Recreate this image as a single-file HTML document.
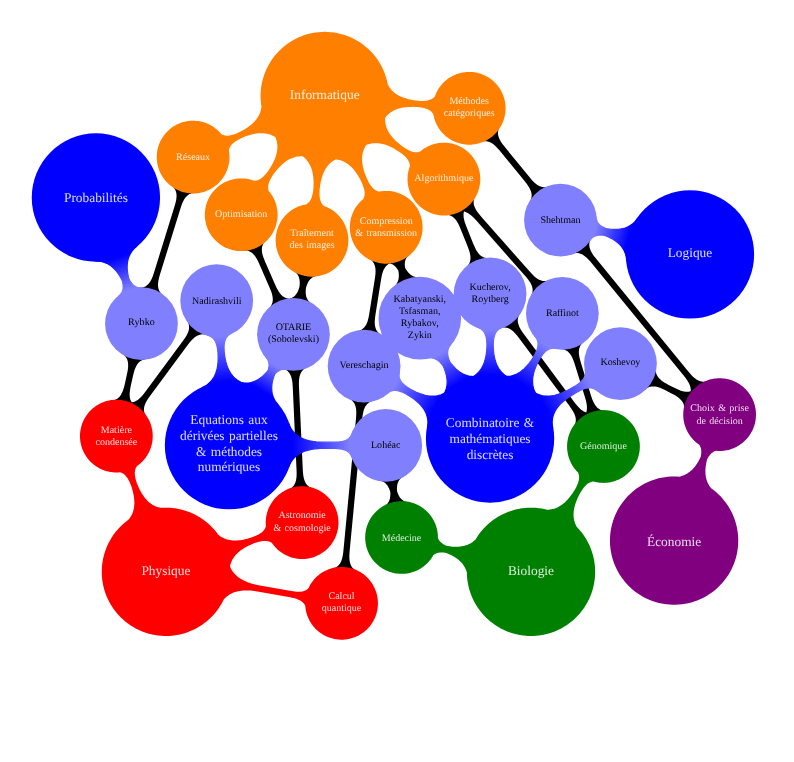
<!DOCTYPE html>
<html lang="fr"><head><meta charset="utf-8"><title>Mindmap</title>
<style>html,body{margin:0;padding:0;background:#fff;overflow:hidden}svg{display:block}text{font-family:"Liberation Serif","DejaVu Serif",serif;text-anchor:middle;text-rendering:geometricPrecision}</style></head><body>
<svg width="794" height="762" viewBox="0 0 794 762" style="will-change:transform">
<defs><linearGradient id="g0" gradientUnits="userSpaceOnUse" x1="117.46" y1="257.21" x2="129.32" y2="290.06"><stop offset="0" stop-color="#0000ff"/><stop offset="1" stop-color="#8080ff"/></linearGradient><linearGradient id="g1" gradientUnits="userSpaceOnUse" x1="628.58" y1="238.15" x2="594.97" y2="229.24"><stop offset="0" stop-color="#0000ff"/><stop offset="1" stop-color="#8080ff"/></linearGradient><linearGradient id="g2" gradientUnits="userSpaceOnUse" x1="223.62" y1="381.95" x2="219.73" y2="336.28"><stop offset="0" stop-color="#0000ff"/><stop offset="1" stop-color="#8080ff"/></linearGradient><linearGradient id="g3" gradientUnits="userSpaceOnUse" x1="260.91" y1="390.32" x2="275.50" y2="365.22"><stop offset="0" stop-color="#0000ff"/><stop offset="1" stop-color="#8080ff"/></linearGradient><linearGradient id="g4" gradientUnits="userSpaceOnUse" x1="292.48" y1="445.28" x2="350.04" y2="445.35"><stop offset="0" stop-color="#0000ff"/><stop offset="1" stop-color="#8080ff"/></linearGradient><linearGradient id="g5" gradientUnits="userSpaceOnUse" x1="434.99" y1="406.90" x2="395.07" y2="383.98"><stop offset="0" stop-color="#0000ff"/><stop offset="1" stop-color="#8080ff"/></linearGradient><linearGradient id="g6" gradientUnits="userSpaceOnUse" x1="458.05" y1="383.67" x2="440.28" y2="353.24"><stop offset="0" stop-color="#0000ff"/><stop offset="1" stop-color="#8080ff"/></linearGradient><linearGradient id="g7" gradientUnits="userSpaceOnUse" x1="490.07" y1="375.02" x2="490.09" y2="329.56"><stop offset="0" stop-color="#0000ff"/><stop offset="1" stop-color="#8080ff"/></linearGradient><linearGradient id="g8" gradientUnits="userSpaceOnUse" x1="521.80" y1="383.52" x2="544.49" y2="344.22"><stop offset="0" stop-color="#0000ff"/><stop offset="1" stop-color="#8080ff"/></linearGradient><linearGradient id="g9" gradientUnits="userSpaceOnUse" x1="545.10" y1="406.88" x2="589.49" y2="381.39"><stop offset="0" stop-color="#0000ff"/><stop offset="1" stop-color="#8080ff"/></linearGradient></defs>
<path d="M174.03,187.99 174.50,188.65 174.93,189.33 175.30,190.02 175.61,190.73 175.88,191.45 176.10,192.18 176.27,192.93 176.40,193.70 176.48,194.47 176.53,195.26 176.54,196.06 176.46,197.70 176.25,199.38 176.10,200.23 175.74,201.96 175.06,204.62 174.25,207.33 154.33,271.56 153.46,274.26 152.85,276.00 152.19,277.67 151.48,279.26 150.70,280.76 149.84,282.15 149.38,282.81 148.89,283.43 148.38,284.02 147.85,284.58 147.28,285.10 146.68,285.59 146.06,286.03 145.40,286.43 144.70,286.80 143.97,287.11 143.20,287.38 142.39,287.61 141.55,287.78 140.66,287.91 139.72,287.98 139.74,288.28 141.28,288.24 142.83,288.27 144.37,288.36 145.91,288.52 147.43,288.75 148.95,289.04 150.45,289.40 151.94,289.83 153.40,290.32 154.85,290.87 156.26,291.49 157.65,292.16 159.01,292.90 160.33,293.70 161.62,294.55 162.87,295.46 163.05,295.22 162.33,294.63 161.66,294.02 161.06,293.40 160.52,292.76 160.05,292.10 159.62,291.42 159.25,290.73 158.94,290.02 158.67,289.30 158.45,288.57 158.28,287.82 158.15,287.05 158.07,286.28 158.01,284.69 158.04,283.88 158.18,282.22 158.30,281.37 158.62,279.66 159.25,277.02 160.02,274.33 180.22,209.19 181.09,206.49 181.70,204.75 182.36,203.08 183.07,201.49 183.85,199.99 184.71,198.60 185.66,197.32 186.17,196.73 186.70,196.17 187.27,195.65 187.87,195.16 188.49,194.72 189.15,194.32 189.85,193.95 190.58,193.64 191.35,193.37 192.16,193.14 193.00,192.97 193.89,192.84 194.83,192.77 194.81,192.47 193.27,192.51 191.72,192.48 190.18,192.39 188.64,192.23 187.12,192.00 185.60,191.71 184.10,191.35 182.61,190.92 181.15,190.43 179.70,189.88 178.29,189.26 176.90,188.59 175.54,187.85 174.22,187.05 172.93,186.20 171.68,185.29 171.50,185.53 172.22,186.12 172.89,186.73 173.49,187.35ZM246.96,250.60 247.76,250.78 248.52,251.02 249.25,251.30 249.95,251.63 250.63,252.00 251.27,252.41 251.89,252.87 252.49,253.36 253.06,253.89 254.14,255.06 255.15,256.35 255.63,257.04 256.54,258.50 257.81,260.85 258.62,262.50 259.40,264.21 269.52,287.39 270.25,289.13 270.92,290.84 271.77,293.37 272.22,295.03 272.40,295.85 272.67,297.47 272.75,298.26 272.79,299.05 272.79,299.83 272.75,300.61 272.66,301.37 272.52,302.13 272.34,302.87 272.10,303.61 271.81,304.34 271.47,305.06 271.07,305.76 270.60,306.46 270.07,307.15 269.48,307.82 268.82,308.49 269.03,308.71 270.17,307.67 271.36,306.68 272.59,305.74 273.86,304.86 275.16,304.03 276.50,303.26 277.87,302.55 279.27,301.90 280.70,301.31 282.16,300.79 283.63,300.33 285.12,299.93 286.63,299.60 288.08,299.35 289.61,299.15 291.15,299.02 292.62,298.95 294.17,298.95 295.71,299.01 297.25,299.15 298.78,299.34 300.30,299.61 301.81,299.94 303.30,300.34 304.78,300.80 306.23,301.33 307.66,301.92 309.06,302.57 310.43,303.28 311.77,304.05 311.93,303.79 311.14,303.28 310.42,302.75 309.75,302.19 309.15,301.61 308.60,301.01 308.11,300.38 307.67,299.73 307.28,299.06 306.94,298.37 306.65,297.67 306.40,296.94 306.19,296.19 306.02,295.43 305.89,294.65 305.74,293.04 305.71,292.22 305.74,290.53 305.79,289.67 305.96,287.96 306.45,286.32 306.73,285.50 307.34,283.93 307.68,283.18 308.43,281.75 308.85,281.08 309.30,280.44 309.77,279.83 310.28,279.25 310.82,278.70 311.40,278.20 312.01,277.72 312.67,277.29 313.36,276.90 314.09,276.55 314.87,276.24 315.70,275.97 316.57,275.76 317.49,275.58 317.44,275.29 315.91,275.49 314.37,275.63 312.83,275.70 311.28,275.70 309.74,275.64 308.20,275.50 306.67,275.31 305.15,275.04 303.64,274.71 302.15,274.31 300.67,273.85 299.22,273.32 297.79,272.73 296.39,272.08 295.02,271.37 293.68,270.60 293.52,270.86 294.31,271.37 295.03,271.90 295.70,272.46 296.30,273.04 296.85,273.64 297.34,274.27 297.78,274.92 298.17,275.59 298.51,276.28 298.80,276.98 299.05,277.71 299.26,278.46 299.43,279.22 299.56,280.00 299.71,281.61 299.74,282.43 299.71,284.12 299.66,284.98 299.49,286.69 299.00,288.33 298.43,289.94 297.77,291.47 297.02,292.90 296.60,293.57 296.15,294.21 295.68,294.82 295.17,295.40 294.63,295.95 294.05,296.45 293.44,296.93 292.78,297.36 292.09,297.75 291.36,298.10 290.58,298.41 289.57,298.72 288.51,298.64 287.69,298.50 286.89,298.32 286.13,298.08 285.40,297.80 284.70,297.47 284.02,297.10 283.38,296.69 282.76,296.23 282.16,295.74 281.59,295.21 280.51,294.04 279.50,292.75 278.56,291.34 277.68,289.84 276.43,287.43 274.87,284.01 265.13,261.71 264.06,259.11 263.43,257.41 262.88,255.73 262.64,254.89 262.25,253.25 262.10,252.44 261.90,250.84 261.86,250.05 261.86,249.27 261.90,248.49 261.99,247.73 262.13,246.97 262.31,246.23 262.55,245.49 262.84,244.76 263.18,244.04 263.58,243.34 264.05,242.64 264.58,241.95 265.17,241.28 265.83,240.61 265.62,240.39 264.48,241.43 263.29,242.42 262.06,243.36 260.79,244.24 259.49,245.07 258.15,245.84 256.78,246.55 255.38,247.20 253.95,247.79 252.49,248.31 251.02,248.77 249.53,249.17 248.02,249.50 246.49,249.76 244.96,249.96 243.42,250.09 243.44,250.39 244.38,250.36 245.28,250.38 246.14,250.46ZM371.72,260.60 372.29,261.18 372.80,261.79 373.27,262.42 373.68,263.07 374.05,263.75 374.37,264.45 374.64,265.16 374.88,265.90 375.08,266.66 375.23,267.43 375.45,269.03 375.54,270.69 375.54,271.54 375.48,273.29 375.23,275.99 374.84,278.77 369.43,312.81 368.78,316.51 368.39,318.29 367.95,320.00 367.43,321.64 367.14,322.43 366.49,323.93 366.13,324.65 365.74,325.33 365.32,325.99 364.87,326.62 364.38,327.21 363.86,327.78 363.30,328.31 362.71,328.80 362.07,329.26 361.39,329.68 360.67,330.05 359.90,330.39 359.09,330.69 358.22,330.94 357.31,331.14 357.37,331.44 358.89,331.18 360.42,330.98 361.96,330.86 363.51,330.80 365.05,330.80 366.59,330.88 368.13,331.02 369.66,331.23 371.18,331.51 372.69,331.85 374.18,332.26 375.65,332.73 377.10,333.26 378.53,333.86 379.92,334.52 381.29,335.24 381.43,334.98 380.63,334.50 379.89,334.00 379.20,333.46 378.58,332.90 378.01,332.32 377.50,331.71 377.03,331.08 376.62,330.43 376.25,329.75 375.93,329.05 375.66,328.34 375.42,327.60 375.22,326.84 374.94,325.28 374.85,324.47 374.76,322.81 374.76,321.96 374.82,320.21 375.07,317.51 375.46,314.73 380.87,280.69 381.35,277.90 381.71,276.09 382.12,274.34 382.60,272.67 382.87,271.86 383.47,270.31 383.81,269.57 384.56,268.17 384.98,267.51 385.43,266.88 385.92,266.29 386.44,265.72 387.00,265.19 387.59,264.70 388.23,264.24 388.91,263.82 389.76,263.39 389.89,263.42 390.67,263.65 391.42,263.93 392.13,264.25 392.81,264.62 393.46,265.03 394.08,265.48 394.68,265.97 395.24,266.50 395.79,267.06 396.80,268.29 397.73,269.64 398.29,270.57 398.55,271.99 398.68,272.94 398.84,274.81 398.85,275.73 398.83,276.63 398.75,277.53 398.63,278.41 398.46,279.28 398.24,280.14 397.96,280.98 397.63,281.81 397.24,282.62 396.79,283.42 396.27,284.20 395.69,284.97 395.04,285.72 394.32,286.45 393.52,287.16 393.72,287.39 395.08,286.28 396.50,285.23 397.96,284.25 399.45,283.33 400.99,282.47 402.57,281.69 404.17,280.97 405.81,280.32 407.47,279.75 409.16,279.25 410.87,278.82 412.59,278.47 414.33,278.19 416.08,277.99 417.83,277.87 419.59,277.82 419.59,277.52 418.52,277.50 417.50,277.41 416.52,277.26 415.58,277.06 414.68,276.80 413.81,276.49 412.99,276.13 412.20,275.72 411.44,275.26 410.71,274.75 410.02,274.20 409.35,273.61 408.71,272.98 408.10,272.31 407.52,271.60 406.42,270.08 405.90,269.27 405.18,268.03 404.99,266.95 404.89,266.13 404.79,264.52 404.79,263.73 404.84,262.95 404.92,262.18 405.06,261.42 405.23,260.68 405.46,259.94 405.74,259.22 406.07,258.51 406.46,257.81 406.90,257.13 407.40,256.46 407.97,255.80 408.60,255.16 409.29,254.54 409.10,254.31 407.90,255.28 406.66,256.20 405.38,257.07 404.06,257.87 402.71,258.62 401.33,259.31 399.92,259.94 398.48,260.51 397.02,261.01 395.54,261.45 394.04,261.83 391.97,262.23 389.67,262.53 388.13,262.65 386.59,262.70 385.25,262.70 383.71,262.62 382.17,262.48 380.64,262.27 379.12,261.99 377.61,261.65 376.12,261.24 374.65,260.77 373.20,260.24 371.77,259.64 370.38,258.98 369.01,258.26 368.87,258.52 369.67,259.00 370.41,259.50 371.10,260.04ZM199.51,331.66 198.18,330.88 196.88,330.04 195.62,329.15 194.40,328.20 193.22,327.20 192.08,326.15 191.00,325.05 189.96,323.91 188.97,322.72 188.04,321.49 187.16,320.22 186.91,320.39 187.40,321.18 187.83,321.97 188.18,322.76 188.48,323.55 188.72,324.33 188.89,325.10 189.01,325.88 189.08,326.65 189.09,327.42 189.05,328.18 188.96,328.95 188.83,329.71 188.66,330.47 188.44,331.23 187.89,332.75 187.56,333.51 186.81,335.02 185.95,336.54 184.99,338.05 183.96,339.58 182.30,341.87 145.73,391.21 144.02,393.46 142.87,394.90 141.10,396.90 139.88,398.12 138.63,399.21 137.34,400.18 136.68,400.61 136.00,401.00 135.31,401.35 134.60,401.65 133.88,401.91 133.14,402.12 132.38,402.28 131.77,402.37 131.43,401.85 131.06,401.17 130.73,400.47 130.46,399.76 130.22,399.02 130.03,398.27 129.88,397.50 129.70,395.92 129.65,394.29 129.72,392.60 129.80,391.74 130.02,389.98 130.31,388.19 130.67,386.36 133.04,375.68 133.71,372.95 134.21,371.20 134.76,369.52 135.05,368.71 135.71,367.15 136.07,366.41 136.85,365.00 137.29,364.34 137.75,363.71 138.24,363.11 138.76,362.54 139.32,362.01 139.91,361.52 140.53,361.06 141.20,360.65 141.90,360.27 142.64,359.94 143.43,359.65 144.26,359.41 145.14,359.21 146.06,359.06 146.02,358.76 144.49,358.93 142.94,359.03 141.40,359.06 139.85,359.02 138.31,358.92 136.78,358.75 135.25,358.51 133.74,358.21 132.24,357.84 130.75,357.40 129.29,356.91 127.85,356.34 126.44,355.72 125.05,355.03 123.70,354.29 122.38,353.49 122.22,353.74 122.99,354.27 123.70,354.82 124.35,355.39 124.94,355.99 125.47,356.60 125.95,357.24 126.37,357.90 126.74,358.58 127.07,359.28 127.34,359.99 127.58,360.73 127.77,361.48 127.92,362.25 128.10,363.83 128.15,365.46 128.08,367.15 127.90,368.89 127.65,370.66 127.32,372.47 126.94,374.32 124.97,383.14 124.32,385.90 123.85,387.68 123.33,389.40 122.75,391.04 122.09,392.60 121.35,394.06 120.51,395.41 120.05,396.04 119.56,396.64 119.04,397.21 118.48,397.74 117.89,398.23 117.27,398.69 116.60,399.10 115.90,399.48 115.16,399.81 114.37,400.10 113.54,400.34 112.66,400.54 111.74,400.69 111.78,400.99 113.31,400.82 114.86,400.72 116.40,400.69 117.95,400.73 119.49,400.83 121.02,401.00 122.55,401.24 124.06,401.54 125.56,401.91 126.74,402.25 128.20,402.74 129.65,403.29 131.07,403.90 133.14,404.93 135.14,406.10 136.17,406.76 137.43,407.65 138.65,408.60 139.83,409.60 140.97,410.65 142.05,411.75 143.09,412.89 144.08,414.08 145.01,415.31 145.89,416.58 146.14,416.41 145.65,415.62 145.22,414.83 144.87,414.04 144.57,413.25 144.33,412.47 144.16,411.70 144.04,410.92 143.97,410.15 143.96,409.38 144.00,408.62 144.09,407.85 144.22,407.09 144.39,406.33 144.61,405.57 145.16,404.05 145.49,403.29 146.24,401.78 146.65,401.02 147.57,399.50 149.09,397.22 150.75,394.93 187.32,345.59 189.61,342.61 191.36,340.54 192.56,339.28 193.17,338.68 194.42,337.59 195.06,337.09 196.37,336.19 197.05,335.80 197.74,335.45 198.45,335.15 199.17,334.89 199.91,334.68 200.67,334.52 201.44,334.40 202.24,334.35 203.05,334.34 203.89,334.40 204.75,334.51 205.63,334.69 206.53,334.93 206.62,334.64 205.15,334.17 203.70,333.64 202.27,333.04 200.88,332.38ZM299.68,369.21 298.15,369.45 296.62,369.62 295.08,369.72 293.53,369.76 291.99,369.73 290.44,369.63 288.91,369.47 287.38,369.24 285.87,368.94 284.36,368.57 282.88,368.14 282.79,368.43 283.67,368.74 284.50,369.08 285.28,369.47 286.00,369.89 286.68,370.34 287.31,370.83 287.89,371.36 288.43,371.92 288.92,372.50 289.38,373.12 289.79,373.77 290.17,374.44 290.52,375.15 291.11,376.62 291.59,378.19 291.96,379.84 292.25,381.56 292.47,383.34 292.62,385.17 292.79,388.00 296.52,469.24 296.63,472.99 296.58,475.70 296.45,477.44 296.35,478.29 296.07,479.93 295.89,480.72 295.44,482.25 295.16,482.98 294.84,483.68 294.49,484.36 294.09,485.02 293.65,485.65 293.17,486.26 292.64,486.83 292.06,487.38 291.43,487.90 290.74,488.38 290.01,488.83 289.21,489.25 288.36,489.64 288.47,489.92 289.91,489.35 291.38,488.85 292.86,488.42 294.36,488.05 295.87,487.74 297.40,487.50 298.93,487.33 300.47,487.23 302.02,487.19 303.56,487.22 305.11,487.32 306.64,487.48 308.17,487.71 309.68,488.01 311.19,488.38 312.67,488.81 312.76,488.52 311.88,488.21 311.05,487.87 310.27,487.48 309.55,487.06 308.87,486.61 308.24,486.12 307.66,485.59 307.12,485.03 306.63,484.45 306.17,483.83 305.76,483.18 305.38,482.51 305.03,481.80 304.72,481.08 304.19,479.56 303.96,478.76 303.59,477.11 303.30,475.39 303.08,473.61 302.93,471.78 302.76,468.95 299.03,387.71 298.92,383.96 298.97,381.25 299.10,379.51 299.20,378.66 299.48,377.02 299.66,376.23 300.11,374.70 300.39,373.97 300.71,373.27 301.06,372.59 301.46,371.93 301.90,371.30 302.38,370.69 302.91,370.12 303.49,369.57 304.12,369.05 304.81,368.57 305.54,368.12 306.34,367.70 307.19,367.31 307.08,367.03 305.64,367.60 304.17,368.10 302.69,368.53 301.19,368.90ZM365.38,401.59 363.83,401.61 362.29,401.56 360.75,401.45 359.21,401.27 357.69,401.02 356.18,400.71 354.68,400.33 353.20,399.89 351.74,399.38 350.30,398.81 348.89,398.18 348.76,398.45 349.60,398.88 350.37,399.33 351.09,399.82 351.74,400.34 352.35,400.89 352.90,401.46 353.40,402.06 353.86,402.69 354.26,403.34 354.63,404.02 354.95,404.72 355.23,405.44 355.47,406.18 355.85,407.72 356.11,409.34 356.25,411.03 356.29,412.77 356.25,414.57 356.15,416.40 355.92,419.23 343.51,549.68 343.21,552.50 342.96,554.32 342.48,556.95 342.07,558.62 341.83,559.42 341.28,560.97 340.96,561.70 340.62,562.41 340.24,563.09 339.82,563.75 339.38,564.37 338.89,564.97 338.37,565.53 337.80,566.06 337.20,566.56 336.55,567.02 335.85,567.44 335.11,567.83 334.31,568.17 333.47,568.48 332.57,568.74 332.64,569.03 334.15,568.67 335.66,568.38 337.19,568.16 338.73,568.00 340.27,567.91 341.82,567.89 343.36,567.94 344.90,568.05 346.44,568.23 347.96,568.48 349.47,568.79 350.97,569.17 352.45,569.61 353.91,570.12 355.35,570.69 356.76,571.32 356.89,571.05 356.05,570.62 355.28,570.17 354.56,569.68 353.91,569.16 353.30,568.61 352.75,568.04 352.25,567.44 351.79,566.81 351.39,566.16 351.02,565.48 350.70,564.78 350.42,564.06 350.18,563.32 349.97,562.56 349.80,561.78 349.54,560.16 349.46,559.32 349.37,557.61 349.37,555.84 349.44,554.02 349.73,550.27 362.14,419.82 362.44,417.00 362.69,415.18 362.99,413.41 363.36,411.70 363.82,410.08 364.08,409.29 364.69,407.80 365.03,407.09 365.41,406.41 365.83,405.75 366.27,405.13 366.76,404.53 367.28,403.97 367.85,403.44 368.45,402.94 369.10,402.48 369.80,402.06 370.54,401.67 371.34,401.33 372.18,401.02 373.08,400.76 373.01,400.47 371.50,400.83 369.99,401.12 368.46,401.34 366.92,401.50ZM396.24,479.22 394.76,479.64 393.25,480.01 391.74,480.30 390.21,480.53 388.67,480.69 387.13,480.78 385.59,480.81 384.04,480.77 382.50,480.66 380.97,480.48 379.44,480.24 379.39,480.54 380.30,480.73 381.17,480.97 381.99,481.26 382.76,481.58 383.48,481.95 384.17,482.36 384.81,482.81 385.41,483.30 385.97,483.82 386.50,484.38 387.00,484.97 387.46,485.59 387.89,486.24 388.66,487.64 389.00,488.37 389.62,489.92 389.90,490.72 390.29,492.03 390.36,493.39 390.36,494.24 390.29,495.90 390.21,496.71 389.95,498.28 389.76,499.04 389.54,499.78 389.27,500.50 388.96,501.20 388.60,501.88 388.19,502.54 387.74,503.18 387.23,503.79 386.67,504.38 386.05,504.95 385.37,505.49 384.64,506.00 383.84,506.49 383.99,506.75 385.35,506.02 386.73,505.34 388.15,504.72 389.59,504.17 391.06,503.68 392.54,503.26 394.05,502.89 395.56,502.60 397.09,502.37 398.63,502.21 400.17,502.12 401.71,502.09 403.26,502.13 404.80,502.24 406.33,502.42 407.86,502.66 407.91,502.36 407.00,502.17 406.13,501.93 405.31,501.64 404.54,501.32 403.82,500.95 403.13,500.54 402.49,500.09 401.89,499.60 401.33,499.08 400.80,498.52 400.30,497.93 399.84,497.31 399.41,496.66 398.64,495.26 398.30,494.53 397.68,492.98 397.40,492.18 397.01,490.87 396.94,489.51 396.96,487.82 397.09,486.19 397.20,485.40 397.35,484.62 397.54,483.86 397.76,483.12 398.03,482.40 398.34,481.70 398.70,481.02 399.11,480.36 399.56,479.72 400.07,479.11 400.63,478.52 401.25,477.95 401.93,477.41 402.66,476.90 403.46,476.41 403.31,476.15 401.95,476.88 400.57,477.56 399.15,478.18 397.71,478.73ZM484.40,141.27 485.22,141.23 486.02,141.26 486.80,141.33 487.56,141.46 488.31,141.63 489.04,141.86 489.76,142.13 490.47,142.45 491.16,142.80 491.85,143.20 493.18,144.10 494.48,145.14 495.12,145.71 496.38,146.92 498.22,148.90 500.04,151.04 524.16,180.58 526.49,183.53 527.56,185.00 528.54,186.47 529.42,187.95 529.81,188.69 530.50,190.17 530.80,190.92 531.05,191.67 531.26,192.42 531.42,193.18 531.55,193.94 531.62,194.70 531.64,195.47 531.61,196.24 531.53,197.02 531.39,197.81 531.19,198.60 530.94,199.39 530.61,200.20 530.23,201.01 529.77,201.83 530.03,201.98 530.85,200.67 531.72,199.40 532.65,198.16 533.64,196.97 534.67,195.83 535.75,194.72 536.89,193.67 538.06,192.67 539.28,191.72 540.54,190.82 541.83,189.98 543.16,189.20 544.53,188.47 545.92,187.81 547.35,187.20 548.79,186.66 548.69,186.38 547.80,186.66 546.93,186.88 546.08,187.04 545.25,187.13 544.43,187.17 543.63,187.14 542.85,187.07 542.09,186.94 541.34,186.77 540.61,186.54 539.89,186.27 539.18,185.95 538.49,185.60 537.80,185.20 536.47,184.30 535.81,183.79 534.53,182.69 533.27,181.48 532.04,180.18 530.82,178.80 529.61,177.36 505.49,147.82 503.72,145.61 502.62,144.13 501.59,142.66 500.66,141.19 499.84,139.71 499.15,138.23 498.60,136.73 498.39,135.98 498.23,135.22 498.10,134.46 498.03,133.70 498.01,132.93 498.04,132.16 498.12,131.38 498.26,130.59 498.46,129.80 498.71,129.01 499.04,128.20 499.42,127.39 499.88,126.57 499.62,126.42 498.80,127.73 497.93,129.00 497.00,130.24 496.01,131.43 494.98,132.57 493.90,133.68 492.76,134.73 491.59,135.73 490.37,136.68 489.11,137.58 487.82,138.42 486.49,139.20 485.12,139.93 483.73,140.59 482.30,141.20 480.86,141.74 480.96,142.02 481.85,141.74 482.72,141.52 483.57,141.36ZM448.62,215.10 449.41,215.31 450.16,215.56 450.88,215.87 451.57,216.22 452.24,216.61 452.87,217.04 453.48,217.51 454.06,218.02 454.62,218.57 455.66,219.77 456.63,221.09 457.53,222.52 457.96,223.27 458.77,224.84 459.54,226.49 460.29,228.20 467.55,246.21 468.22,247.97 468.84,249.70 469.63,252.26 470.03,253.93 470.18,254.75 470.40,256.38 470.46,257.17 470.48,257.96 470.45,258.75 470.39,259.52 470.28,260.28 470.12,261.03 469.92,261.77 469.66,262.50 469.35,263.22 468.98,263.93 468.56,264.62 468.07,265.31 467.53,265.98 466.92,266.64 466.24,267.28 466.44,267.51 467.61,266.50 468.82,265.55 470.08,264.64 471.37,263.80 472.70,263.01 474.06,262.28 475.46,261.61 476.88,261.00 478.32,260.46 479.79,259.98 481.28,259.56 482.78,259.21 484.30,258.92 485.83,258.70 487.36,258.55 488.91,258.46 488.90,258.16 487.96,258.16 487.06,258.11 486.20,258.01 485.38,257.85 484.59,257.64 483.84,257.39 483.12,257.08 482.43,256.73 481.76,256.34 481.13,255.91 480.52,255.44 479.94,254.93 479.38,254.38 478.85,253.80 478.34,253.18 477.37,251.86 476.91,251.16 476.04,249.68 474.84,247.29 474.08,245.61 473.35,243.88 466.45,226.74 465.46,224.11 464.87,222.39 464.37,220.69 463.97,219.02 463.69,217.38 463.60,216.57 463.52,214.99 463.55,214.20 463.61,213.43 463.72,212.67 463.96,211.61 465.02,211.87 465.75,212.11 466.47,212.40 467.18,212.73 467.88,213.10 469.25,213.95 470.58,214.94 471.90,216.05 473.19,217.26 474.47,218.55 477.00,221.33 524.56,275.21 526.41,277.36 527.57,278.78 528.66,280.21 529.65,281.65 530.52,283.09 530.92,283.82 531.59,285.29 531.87,286.03 532.11,286.77 532.31,287.52 532.46,288.27 532.56,289.03 532.61,289.80 532.62,290.57 532.56,291.36 532.45,292.15 532.29,292.94 532.06,293.75 531.77,294.56 531.41,295.39 530.99,296.22 531.25,296.37 532.02,295.03 532.85,293.72 533.73,292.45 534.66,291.22 535.65,290.04 536.69,288.90 537.78,287.80 538.92,286.75 540.10,285.76 541.32,284.81 542.58,283.92 543.88,283.09 545.22,282.31 546.59,281.59 547.99,280.94 549.41,280.34 549.30,280.06 548.42,280.38 547.56,280.63 546.71,280.81 545.88,280.94 545.07,281.01 544.28,281.02 543.49,280.97 542.72,280.88 541.97,280.73 541.23,280.53 540.50,280.29 539.78,280.00 539.07,279.67 537.68,278.89 537.00,278.45 535.67,277.46 535.01,276.92 533.70,275.76 531.78,273.85 529.25,271.07 481.69,217.19 479.84,215.04 478.68,213.62 477.59,212.19 476.60,210.75 475.73,209.31 474.98,207.85 474.38,206.37 474.14,205.63 473.94,204.88 473.79,204.13 473.69,203.37 473.64,202.60 473.63,201.83 473.69,201.04 473.80,200.25 473.96,199.46 474.19,198.65 474.48,197.84 474.84,197.01 475.26,196.18 475.00,196.03 474.23,197.37 473.40,198.68 472.52,199.95 471.59,201.18 470.60,202.36 469.56,203.50 468.47,204.60 467.44,205.54 466.27,206.55 465.05,207.49 464.42,207.95 463.79,208.39 462.50,209.23 461.16,210.01 460.48,210.38 459.80,210.74 458.40,211.40 456.98,212.00 455.68,212.49 454.21,212.97 452.72,213.39 451.22,213.74 449.70,214.03 448.17,214.25 446.64,214.40 445.09,214.49 445.10,214.79 446.04,214.79 446.94,214.84 447.80,214.94ZM586.26,244.34 585.18,245.45 584.05,246.50 582.87,247.50 581.66,248.46 580.40,249.35 579.10,250.20 577.77,250.98 576.41,251.71 575.02,252.37 573.60,252.98 572.15,253.52 572.25,253.80 573.14,253.52 574.01,253.30 574.86,253.15 575.70,253.05 576.51,253.01 577.31,253.03 578.09,253.11 578.85,253.23 579.60,253.41 580.33,253.64 581.05,253.91 581.76,254.22 582.46,254.58 583.14,254.97 583.81,255.41 585.13,256.38 586.42,257.48 587.67,258.68 588.91,259.98 590.13,261.36 591.95,263.53 683.26,375.12 685.03,377.34 686.66,379.54 687.65,381.01 688.53,382.49 689.29,383.97 689.91,385.46 690.16,386.21 690.37,386.96 690.54,387.71 690.66,388.47 690.74,389.24 690.76,390.01 690.69,391.22 689.52,391.54 688.76,391.68 688.00,391.77 687.23,391.81 686.46,391.80 685.68,391.75 684.10,391.53 682.51,391.16 680.89,390.67 679.25,390.06 677.60,389.36 675.93,388.59 674.25,387.75 668.67,384.88 666.20,383.55 664.63,382.63 663.14,381.67 662.43,381.17 661.09,380.15 660.46,379.61 659.30,378.49 658.77,377.91 658.27,377.30 657.82,376.68 657.40,376.03 657.03,375.36 656.70,374.66 656.42,373.94 656.18,373.20 656.00,372.42 655.86,371.62 655.78,370.78 655.75,369.92 655.79,369.02 655.88,368.09 655.58,368.05 655.35,369.58 655.06,371.09 654.70,372.60 654.27,374.08 653.78,375.55 653.23,376.99 652.61,378.41 651.94,379.80 651.20,381.15 650.41,382.48 649.55,383.77 648.65,385.02 647.69,386.23 646.67,387.39 645.61,388.52 644.50,389.59 644.70,389.81 645.41,389.19 646.12,388.65 646.84,388.16 647.57,387.75 648.30,387.39 649.04,387.09 649.78,386.84 650.53,386.66 651.29,386.52 652.05,386.43 652.82,386.39 653.59,386.40 654.37,386.45 655.16,386.54 656.74,386.83 658.35,387.27 659.98,387.82 661.62,388.48 663.28,389.22 664.96,390.02 670.54,392.88 673.04,394.20 674.65,395.11 676.18,396.05 677.62,397.03 678.96,398.05 680.19,399.14 681.28,400.29 681.78,400.90 682.23,401.52 682.65,402.17 683.02,402.84 683.35,403.54 683.63,404.26 683.87,405.00 684.05,405.78 684.19,406.58 684.27,407.42 684.30,408.28 684.26,409.18 684.17,410.11 684.47,410.15 684.70,408.62 684.99,407.11 685.35,405.60 685.78,404.12 686.27,402.65 686.82,401.21 687.44,399.79 688.11,398.40 688.85,397.05 690.24,394.82 691.13,393.56 692.07,392.34 693.59,390.58 695.21,388.94 696.00,388.20 697.18,387.20 698.39,386.24 699.65,385.35 700.95,384.50 702.28,383.72 703.64,382.99 705.03,382.33 706.45,381.72 707.90,381.18 707.80,380.90 706.91,381.18 706.04,381.40 705.19,381.55 704.35,381.65 703.54,381.69 702.74,381.67 701.96,381.59 701.20,381.47 700.45,381.29 699.72,381.06 699.00,380.79 698.29,380.48 697.59,380.12 696.91,379.73 696.24,379.29 694.92,378.32 694.27,377.79 693.00,376.63 691.76,375.38 690.53,374.04 688.10,371.17 596.79,259.58 595.02,257.36 593.91,255.89 592.88,254.42 591.95,252.95 591.12,251.47 590.76,250.73 590.14,249.24 589.89,248.49 589.68,247.74 589.51,246.99 589.39,246.23 589.31,245.46 589.29,244.69 589.31,243.92 589.40,243.14 589.53,242.36 589.73,241.57 589.99,240.77 590.31,239.97 590.70,239.15 591.15,238.34 590.89,238.18 590.08,239.49 589.20,240.77 588.27,242.00 587.29,243.19ZM514.74,319.28 513.61,320.33 512.43,321.33 511.21,322.28 509.95,323.17 508.65,324.01 507.32,324.79 505.95,325.51 504.56,326.17 503.13,326.77 501.68,327.31 500.21,327.78 500.30,328.07 501.20,327.83 502.08,327.65 502.94,327.54 503.78,327.48 504.59,327.48 505.39,327.54 506.16,327.65 506.92,327.81 507.66,328.02 508.38,328.28 509.09,328.59 509.78,328.93 510.46,329.32 511.78,330.22 512.42,330.72 513.67,331.81 514.28,332.41 515.48,333.67 517.23,335.74 519.52,338.72 569.01,405.36 570.67,407.65 571.71,409.17 572.67,410.69 573.53,412.20 574.29,413.72 574.91,415.23 575.38,416.75 575.56,417.51 575.69,418.28 575.77,419.04 575.81,419.81 575.80,420.58 575.74,421.35 575.62,422.12 575.44,422.90 575.21,423.68 574.91,424.46 574.56,425.25 574.13,426.04 573.64,426.84 573.89,427.01 574.77,425.73 575.70,424.50 576.69,423.31 577.72,422.17 578.81,421.07 579.94,420.02 581.12,419.02 582.21,418.18 583.46,417.28 585.42,416.04 587.45,414.92 589.55,413.94 591.71,413.10 593.17,412.62 594.50,412.24 596.00,411.88 597.52,411.59 599.04,411.37 600.58,411.21 602.12,411.12 603.67,411.09 605.21,411.13 605.23,410.83 604.29,410.76 603.40,410.63 602.56,410.46 601.75,410.23 600.98,409.96 600.25,409.64 599.56,409.28 598.90,408.87 598.27,408.43 597.67,407.94 597.11,407.42 596.57,406.86 596.06,406.27 595.12,404.99 594.68,404.31 593.87,402.86 593.13,401.31 592.44,399.67 591.81,397.97 591.21,396.21 581.13,363.56 580.32,360.84 579.85,359.06 579.45,357.31 579.14,355.60 578.94,353.92 578.85,352.29 578.91,350.70 579.00,349.92 579.13,349.16 579.30,348.41 579.52,347.67 579.79,346.95 580.11,346.24 580.48,345.55 580.90,344.88 581.38,344.22 581.92,343.58 582.52,342.96 583.18,342.35 583.91,341.76 583.73,341.52 582.48,342.43 581.19,343.28 579.87,344.07 578.51,344.81 577.12,345.48 575.70,346.10 574.26,346.65 572.79,347.14 571.30,347.56 569.80,347.92 568.28,348.21 566.76,348.43 565.22,348.59 563.68,348.68 562.13,348.71 560.59,348.67 560.57,348.97 561.51,349.04 562.40,349.17 563.24,349.34 564.05,349.57 564.82,349.84 565.55,350.16 566.24,350.52 566.90,350.93 567.53,351.37 568.13,351.86 568.69,352.38 569.23,352.94 569.74,353.53 570.22,354.15 571.12,355.49 571.54,356.20 572.31,357.71 572.67,358.49 573.36,360.13 574.29,362.71 575.16,365.40 584.67,396.24 585.48,398.96 585.95,400.74 586.35,402.49 586.66,404.20 586.86,405.88 586.95,407.51 586.89,409.10 586.80,409.88 586.67,410.64 586.50,411.39 586.17,412.41 585.17,412.07 584.46,411.76 583.77,411.42 583.09,411.03 582.43,410.60 581.13,409.63 579.88,408.54 578.67,407.32 577.48,406.01 575.74,403.89 574.03,401.63 524.54,334.99 522.88,332.70 521.84,331.18 520.88,329.66 520.02,328.15 519.26,326.63 518.94,325.87 518.39,324.36 518.17,323.60 517.99,322.84 517.86,322.07 517.78,321.31 517.74,320.54 517.75,319.77 517.81,319.00 517.93,318.23 518.11,317.45 518.34,316.67 518.64,315.89 518.99,315.10 519.42,314.31 519.91,313.51 519.66,313.34 518.78,314.62 517.85,315.85 516.86,317.04 515.83,318.18Z" fill="#000" fill-rule="evenodd"/>
<path d="M387.76,84.24 387.29,81.94 386.53,78.89 385.61,75.88 384.55,72.91 383.35,70.00 382.69,68.57 381.28,65.76 379.73,63.02 378.04,60.36 376.23,57.78 375.27,56.53 373.28,54.10 371.16,51.76 368.94,49.54 366.60,47.42 364.17,45.43 361.64,43.55 359.02,41.80 356.32,40.18 354.94,39.42 353.54,38.70 350.70,37.35 347.79,36.15 344.82,35.09 341.81,34.17 338.76,33.41 337.22,33.08 334.11,32.54 330.99,32.16 327.85,31.92 324.70,31.85 321.55,31.92 318.41,32.16 315.29,32.54 312.18,33.08 309.11,33.77 306.08,34.61 303.09,35.60 301.61,36.15 298.70,37.35 295.86,38.70 294.46,39.42 291.72,40.97 289.06,42.66 286.48,44.47 284.00,46.41 282.80,47.42 281.62,48.47 279.34,50.64 277.17,52.92 275.11,55.30 273.17,57.78 272.25,59.06 270.50,61.68 268.88,64.38 267.40,67.16 266.05,70.00 264.85,72.91 264.30,74.39 263.79,75.88 262.87,78.89 262.11,81.94 261.49,85.03 261.03,88.15 260.86,89.71 260.62,92.85 260.55,96.00 260.62,99.15 260.72,100.72 261.03,103.85 261.43,106.56 261.28,107.82 261.01,109.30 260.66,110.74 260.23,112.13 259.72,113.49 259.13,114.80 258.47,116.07 257.73,117.30 256.93,118.49 256.07,119.65 255.14,120.77 254.15,121.86 253.10,122.91 252.00,123.93 250.85,124.91 249.64,125.87 248.39,126.80 247.10,127.70 245.76,128.57 244.38,129.41 242.97,130.23 241.53,131.02 238.56,132.53 236.93,133.24 235.24,133.91 233.57,134.50 231.93,134.98 230.30,135.35 229.50,135.48 227.92,135.64 227.14,135.66 226.36,135.63 225.60,135.56 224.84,135.45 224.09,135.28 223.35,135.06 222.61,134.79 221.89,134.46 221.33,134.16 220.65,133.34 219.45,132.02 218.18,130.75 216.86,129.55 215.48,128.42 214.77,127.88 214.05,127.36 212.56,126.37 211.03,125.45 209.46,124.61 208.65,124.21 207.02,123.49 205.36,122.85 203.66,122.29 202.80,122.04 201.07,121.61 200.20,121.42 198.44,121.12 196.67,120.90 194.89,120.77 193.10,120.72 192.21,120.73 190.42,120.82 188.65,120.99 187.76,121.12 186.00,121.42 184.26,121.81 182.54,122.29 180.84,122.85 180.01,123.16 178.36,123.84 176.74,124.61 175.17,125.45 173.64,126.37 172.15,127.36 170.72,128.42 169.34,129.55 168.67,130.15 167.38,131.38 166.15,132.67 165.55,133.34 164.42,134.72 163.36,136.15 162.37,137.64 161.45,139.17 160.61,140.74 159.84,142.36 159.16,144.01 158.85,144.84 158.29,146.54 157.81,148.26 157.42,150.00 157.12,151.76 156.90,153.53 156.77,155.31 156.72,157.10 156.77,158.89 156.82,159.78 156.99,161.55 157.26,163.32 157.61,165.07 158.04,166.80 158.56,168.51 159.16,170.19 159.84,171.84 160.61,173.46 161.45,175.03 162.37,176.56 163.36,178.05 164.42,179.48 165.55,180.86 166.15,181.53 167.38,182.82 168.67,184.05 170.02,185.22 171.43,186.32 172.89,187.35 174.40,188.30 175.95,189.18 176.74,189.59 178.36,190.36 180.01,191.04 181.69,191.64 183.40,192.16 185.13,192.59 186.00,192.78 187.76,193.08 189.53,193.30 191.31,193.43 193.10,193.48 194.89,193.43 195.78,193.38 197.55,193.21 199.32,192.94 201.07,192.59 202.80,192.16 204.51,191.64 206.19,191.04 207.84,190.36 208.65,189.99 210.25,189.18 211.80,188.30 213.31,187.35 214.77,186.32 215.48,185.78 216.86,184.65 218.18,183.45 219.45,182.18 220.65,180.86 221.78,179.48 222.84,178.05 223.83,176.56 224.30,175.80 225.18,174.25 225.99,172.65 226.71,171.02 227.35,169.36 227.91,167.66 228.39,165.94 228.78,164.20 229.08,162.44 229.30,160.67 229.38,159.78 229.47,157.99 229.47,156.21 229.38,154.42 229.21,152.65 228.84,150.34 228.97,149.72 229.19,148.96 229.46,148.22 229.77,147.51 230.12,146.83 230.52,146.17 230.96,145.54 231.44,144.94 231.96,144.35 232.52,143.79 233.10,143.24 234.37,142.21 235.05,141.71 236.49,140.77 238.01,139.88 239.62,139.02 241.21,138.23 242.73,137.57 245.81,136.34 247.35,135.79 248.88,135.29 250.41,134.83 251.93,134.42 253.44,134.06 254.95,133.76 256.45,133.51 257.94,133.33 259.42,133.21 260.89,133.15 262.34,133.17 263.79,133.25 265.21,133.41 266.63,133.65 268.03,133.96 269.41,134.36 270.77,134.84 272.11,135.41 273.44,136.07 274.74,136.82 275.37,137.24 275.67,137.93 276.18,139.35 276.60,140.77 276.92,142.19 277.15,143.62 277.30,145.05 277.36,146.48 277.34,147.91 277.24,149.35 277.07,150.78 276.83,152.22 276.51,153.65 276.13,155.09 275.68,156.52 275.18,157.95 274.61,159.38 273.99,160.81 273.32,162.23 272.60,163.66 271.83,165.08 271.01,166.49 269.26,169.30 268.32,170.72 266.68,172.90 265.54,174.29 264.37,175.58 263.17,176.77 261.93,177.84 260.64,178.76 259.97,179.17 259.29,179.53 258.59,179.86 257.87,180.13 257.14,180.36 256.38,180.54 255.61,180.67 254.82,180.75 254.19,180.77 252.61,180.21 251.76,179.94 250.90,179.69 249.17,179.26 248.30,179.07 246.54,178.77 244.77,178.55 243.88,178.47 242.09,178.38 240.31,178.38 239.41,178.42 237.63,178.55 235.86,178.77 234.98,178.91 233.23,179.26 231.50,179.69 230.64,179.94 228.94,180.50 228.11,180.81 227.28,181.14 225.65,181.86 224.84,182.26 223.27,183.10 222.50,183.55 220.99,184.50 219.53,185.53 218.82,186.07 217.44,187.20 216.12,188.40 215.48,189.03 214.85,189.67 213.65,190.99 213.08,191.67 211.98,193.08 211.46,193.80 210.47,195.29 209.55,196.82 209.12,197.60 208.71,198.39 207.94,200.01 207.26,201.66 206.95,202.49 206.39,204.19 206.14,205.05 205.71,206.78 205.52,207.65 205.22,209.41 205.00,211.18 204.92,212.07 204.83,213.86 204.83,215.64 204.87,216.54 204.92,217.43 205.09,219.20 205.22,220.09 205.52,221.85 205.71,222.72 206.14,224.45 206.66,226.16 207.26,227.84 207.59,228.67 207.94,229.49 208.71,231.11 209.55,232.68 210.00,233.45 210.95,234.96 211.98,236.42 213.08,237.83 213.65,238.51 214.85,239.83 216.12,241.10 217.44,242.30 218.12,242.87 219.53,243.97 220.99,245.00 222.50,245.95 223.27,246.40 224.84,247.24 225.65,247.64 227.28,248.36 228.94,249.00 230.64,249.56 231.50,249.81 233.23,250.24 234.10,250.43 235.86,250.73 237.63,250.95 238.52,251.03 240.31,251.12 242.09,251.12 243.88,251.03 244.77,250.95 246.54,250.73 248.30,250.43 249.17,250.24 250.90,249.81 252.61,249.29 254.29,248.69 255.12,248.36 256.75,247.64 258.35,246.83 259.13,246.40 260.66,245.48 262.15,244.49 263.58,243.43 264.28,242.87 265.63,241.70 266.92,240.47 268.15,239.18 269.32,237.83 270.42,236.42 271.45,234.96 272.40,233.45 273.28,231.90 274.09,230.30 274.81,228.67 275.14,227.84 275.74,226.16 276.26,224.45 276.69,222.72 277.04,220.97 277.31,219.20 277.48,217.43 277.57,215.64 277.58,214.75 277.53,212.96 277.40,211.18 277.18,209.41 276.88,207.65 276.49,205.91 276.01,204.19 275.45,202.49 274.81,200.83 274.09,199.20 273.28,197.60 272.40,196.05 271.45,194.54 270.42,193.08 269.88,192.37 268.78,191.03 268.59,190.43 268.39,189.66 268.25,188.89 268.17,188.12 268.14,187.35 268.16,186.58 268.22,185.82 268.33,185.05 268.49,184.29 268.92,182.76 269.20,181.99 269.85,180.46 270.22,179.69 271.04,178.16 271.96,176.62 272.96,175.07 273.47,174.32 274.47,172.97 276.53,170.37 277.58,169.12 278.66,167.92 279.75,166.76 280.87,165.64 282.00,164.58 283.15,163.56 284.33,162.60 285.53,161.70 286.75,160.85 287.99,160.07 289.26,159.35 290.55,158.71 291.87,158.13 293.21,157.63 294.58,157.20 295.97,156.86 297.40,156.59 298.84,156.41 300.32,156.32 301.83,156.32 302.64,156.37 303.29,156.86 304.45,157.83 305.52,158.85 306.51,159.92 307.43,161.04 308.27,162.20 309.04,163.41 309.74,164.66 310.38,165.95 310.95,167.28 311.45,168.64 311.90,170.04 312.29,171.47 312.62,172.94 312.90,174.43 313.13,175.95 313.31,177.50 313.44,179.07 313.53,180.66 313.57,182.27 313.58,183.91 313.48,187.22 313.38,188.77 313.19,190.41 312.93,192.21 312.61,193.95 312.21,195.62 311.97,196.42 311.43,197.97 311.12,198.71 310.78,199.42 310.40,200.10 310.00,200.76 309.55,201.39 309.07,201.99 308.55,202.56 307.99,203.09 307.39,203.59 306.74,204.06 306.20,204.39 304.03,204.81 302.30,205.24 300.59,205.76 298.91,206.36 297.26,207.04 296.45,207.41 294.85,208.22 293.30,209.10 291.79,210.05 290.33,211.08 288.92,212.18 287.57,213.35 286.92,213.95 285.65,215.22 284.45,216.54 283.32,217.92 282.26,219.35 281.75,220.09 280.80,221.60 279.92,223.15 279.11,224.75 278.39,226.38 277.75,228.04 277.19,229.74 276.71,231.46 276.32,233.20 276.02,234.96 275.80,236.73 275.67,238.51 275.62,240.30 275.67,242.09 275.80,243.87 276.02,245.64 276.32,247.40 276.71,249.14 277.19,250.86 277.75,252.56 278.39,254.22 279.11,255.85 279.51,256.66 280.35,258.23 281.27,259.76 282.26,261.25 283.32,262.68 284.45,264.06 285.65,265.38 286.92,266.65 288.24,267.85 289.62,268.98 291.05,270.04 292.54,271.03 294.07,271.95 295.64,272.79 297.26,273.56 298.91,274.24 300.59,274.84 302.30,275.36 303.16,275.59 304.90,275.98 306.66,276.28 308.43,276.50 310.21,276.63 312.00,276.68 313.79,276.63 315.57,276.50 317.34,276.28 318.22,276.14 319.97,275.79 321.70,275.36 322.56,275.11 323.41,274.84 325.09,274.24 325.92,273.91 327.55,273.19 329.15,272.38 329.93,271.95 331.46,271.03 332.21,270.55 333.67,269.52 335.08,268.42 336.43,267.25 337.72,266.02 338.35,265.38 339.55,264.06 340.12,263.38 341.22,261.97 342.25,260.51 342.73,259.76 343.20,259.00 344.08,257.45 344.89,255.85 345.61,254.22 346.25,252.56 346.54,251.71 347.06,250.00 347.29,249.14 347.68,247.40 347.98,245.64 348.20,243.87 348.28,242.98 348.37,241.19 348.37,239.41 348.33,238.51 348.20,236.73 347.98,234.96 347.68,233.20 347.29,231.46 346.81,229.74 346.54,228.89 345.94,227.21 345.26,225.56 344.49,223.94 343.65,222.37 342.73,220.84 341.74,219.35 340.68,217.92 339.55,216.54 338.35,215.22 337.08,213.95 335.76,212.75 334.38,211.62 332.95,210.56 332.21,210.05 330.70,209.10 329.15,208.22 327.55,207.41 325.92,206.69 323.98,205.95 323.51,205.53 322.95,204.96 322.45,204.36 321.99,203.74 321.57,203.09 321.21,202.42 320.88,201.72 320.59,201.00 320.34,200.26 319.95,198.72 319.69,197.10 319.54,195.42 319.50,194.55 319.48,192.78 319.54,190.97 319.64,189.32 320.04,186.13 320.30,184.50 320.59,182.89 320.91,181.31 321.28,179.76 321.68,178.23 322.13,176.74 322.62,175.29 323.15,173.86 323.74,172.48 324.37,171.14 325.05,169.84 325.79,168.58 326.58,167.38 327.44,166.22 328.34,165.11 329.32,164.06 330.35,163.06 331.45,162.12 332.61,161.24 333.84,160.42 335.15,159.66 335.90,159.29 336.73,159.38 338.22,159.64 339.66,159.99 341.05,160.42 342.40,160.92 343.72,161.51 344.99,162.16 346.23,162.89 347.42,163.69 348.58,164.55 349.71,165.48 350.79,166.46 351.85,167.51 352.87,168.61 353.86,169.76 354.82,170.96 355.75,172.20 356.66,173.50 357.53,174.83 358.38,176.20 360.00,179.06 361.50,181.97 362.54,184.40 363.46,186.90 363.95,188.55 364.15,189.36 364.46,190.97 364.62,192.55 364.64,193.34 364.62,194.11 364.55,194.88 364.44,195.63 364.27,196.39 364.06,197.13 363.79,197.86 363.46,198.59 363.16,199.15 361.77,200.35 360.48,201.58 359.25,202.87 358.08,204.22 356.98,205.63 355.95,207.09 355.00,208.60 354.55,209.37 354.12,210.15 353.31,211.75 352.59,213.38 351.95,215.04 351.66,215.89 351.14,217.60 350.71,219.33 350.36,221.08 350.22,221.96 350.00,223.73 349.87,225.51 349.82,227.30 349.87,229.09 350.00,230.87 350.22,232.64 350.36,233.52 350.71,235.27 351.14,237.00 351.66,238.71 351.95,239.56 352.59,241.22 353.31,242.85 354.12,244.45 354.55,245.23 355.00,246.00 355.95,247.51 356.98,248.97 358.08,250.38 359.25,251.73 360.48,253.02 361.12,253.65 362.44,254.85 363.82,255.98 365.25,257.04 365.99,257.55 367.50,258.50 369.05,259.38 370.65,260.19 372.28,260.91 373.94,261.55 375.64,262.11 377.36,262.59 379.10,262.98 380.86,263.28 382.63,263.50 384.41,263.63 386.20,263.68 387.09,263.67 388.88,263.58 390.65,263.41 391.54,263.28 393.30,262.98 394.17,262.79 395.90,262.36 397.61,261.84 399.29,261.24 400.94,260.56 402.56,259.79 404.13,258.95 405.66,258.03 407.15,257.04 407.87,256.52 409.28,255.42 410.63,254.25 411.92,253.02 413.15,251.73 414.32,250.38 414.88,249.68 415.94,248.25 416.93,246.76 417.85,245.23 418.69,243.66 419.46,242.04 420.14,240.39 420.74,238.71 421.26,237.00 421.69,235.27 422.04,233.52 422.18,232.64 422.40,230.87 422.53,229.09 422.58,227.30 422.53,225.51 422.40,223.73 422.18,221.96 422.04,221.08 421.69,219.33 421.26,217.60 420.74,215.89 420.14,214.21 419.81,213.38 419.09,211.75 418.28,210.15 417.40,208.60 416.45,207.09 415.42,205.63 414.32,204.22 413.75,203.54 412.55,202.22 411.28,200.95 409.96,199.75 408.58,198.62 407.15,197.56 405.66,196.57 404.13,195.65 403.35,195.22 401.75,194.41 400.12,193.69 398.46,193.05 396.76,192.49 395.04,192.01 393.30,191.62 391.54,191.32 389.77,191.10 388.88,191.02 387.09,190.93 385.31,190.93 383.52,191.02 381.75,191.19 379.32,191.58 378.70,191.45 377.93,191.24 377.20,190.97 376.49,190.67 375.80,190.31 375.15,189.91 374.52,189.47 373.91,189.00 373.32,188.48 372.75,187.93 372.21,187.34 371.17,186.08 370.67,185.40 369.72,183.97 368.82,182.45 367.96,180.85 367.19,179.31 366.54,177.83 365.31,174.75 364.75,173.22 364.24,171.69 363.78,170.16 363.36,168.64 363.00,167.13 362.69,165.62 362.44,164.12 362.25,162.63 362.13,161.15 362.07,159.69 362.08,158.23 362.16,156.79 362.31,155.36 362.54,153.94 362.85,152.55 363.24,151.16 363.72,149.80 364.29,148.45 364.94,147.13 365.69,145.82 366.12,145.17 366.83,144.86 368.24,144.34 369.66,143.92 371.09,143.60 372.51,143.36 373.94,143.21 375.37,143.14 376.80,143.15 378.24,143.24 379.67,143.41 381.11,143.65 382.55,143.96 383.98,144.33 385.42,144.77 386.85,145.27 388.28,145.83 389.71,146.45 391.14,147.11 392.57,147.83 393.99,148.59 395.41,149.40 398.23,151.14 399.73,152.13 401.95,153.79 403.34,154.92 404.64,156.09 405.83,157.28 406.90,158.52 407.83,159.81 408.24,160.48 408.61,161.16 408.94,161.85 409.22,162.57 409.45,163.30 409.63,164.05 409.77,164.83 409.85,165.62 409.87,166.25 409.09,168.54 408.61,170.26 408.41,171.13 408.22,172.00 407.92,173.76 407.70,175.53 407.62,176.42 407.53,178.21 407.52,179.10 407.57,180.89 407.70,182.67 407.79,183.55 408.06,185.32 408.22,186.20 408.61,187.94 409.09,189.66 409.65,191.36 409.96,192.19 410.29,193.02 411.01,194.65 411.41,195.46 412.25,197.03 412.70,197.80 413.65,199.31 414.68,200.77 415.22,201.48 416.35,202.86 416.95,203.53 418.18,204.82 418.82,205.45 420.14,206.65 421.52,207.78 422.23,208.32 422.95,208.84 424.44,209.83 425.20,210.30 426.75,211.18 427.54,211.59 429.16,212.36 429.98,212.71 431.64,213.35 433.34,213.91 434.20,214.16 435.93,214.59 436.80,214.78 438.56,215.08 439.45,215.21 441.22,215.38 442.11,215.43 443.90,215.48 444.79,215.47 446.58,215.38 448.35,215.21 449.24,215.08 451.00,214.78 451.87,214.59 453.60,214.16 454.46,213.91 456.16,213.35 457.82,212.71 459.45,211.99 461.05,211.18 461.83,210.75 463.36,209.83 464.11,209.35 465.57,208.32 466.98,207.22 468.33,206.05 468.98,205.45 470.25,204.18 471.45,202.86 472.02,202.18 473.12,200.77 474.15,199.31 475.10,197.80 475.55,197.03 476.39,195.46 476.79,194.65 477.51,193.02 478.15,191.36 478.44,190.51 478.96,188.80 479.39,187.07 479.74,185.32 479.88,184.44 480.10,182.67 480.23,180.89 480.28,179.10 480.27,178.21 480.23,177.31 480.10,175.53 479.88,173.76 479.58,172.00 479.19,170.26 478.96,169.40 478.44,167.69 478.15,166.84 477.51,165.18 476.79,163.55 476.39,162.74 475.55,161.17 474.63,159.64 473.64,158.15 472.58,156.72 471.45,155.34 470.25,154.02 468.98,152.75 468.33,152.15 466.98,150.98 465.57,149.88 464.11,148.85 462.60,147.90 461.05,147.02 459.45,146.21 457.82,145.49 456.16,144.85 454.46,144.29 453.60,144.04 451.87,143.61 450.12,143.26 448.35,142.99 446.58,142.82 444.79,142.73 443.01,142.73 441.22,142.82 440.33,142.90 438.56,143.12 436.80,143.42 435.06,143.81 433.34,144.29 431.64,144.85 429.98,145.49 428.35,146.21 426.75,147.02 425.20,147.90 424.44,148.37 422.95,149.36 421.52,150.42 420.07,151.61 419.47,151.81 418.70,152.01 417.93,152.15 417.16,152.24 416.39,152.27 415.63,152.26 414.86,152.19 414.09,152.09 413.33,151.93 411.79,151.50 411.03,151.23 409.49,150.59 408.73,150.22 407.19,149.40 405.64,148.49 404.09,147.50 403.22,146.91 401.87,145.92 399.26,143.87 398.01,142.82 396.80,141.75 395.64,140.66 394.52,139.55 393.45,138.42 392.43,137.27 391.46,136.10 390.55,134.91 389.70,133.69 388.92,132.45 388.20,131.18 387.54,129.89 386.96,128.58 386.45,127.24 386.02,125.87 385.67,124.48 385.40,123.06 385.22,121.61 385.12,120.14 385.11,118.63 385.16,117.85 385.62,117.23 386.59,116.08 387.61,115.00 388.67,114.01 389.79,113.09 390.95,112.24 392.16,111.47 393.40,110.76 394.69,110.12 396.02,109.55 397.38,109.04 398.78,108.59 400.21,108.19 401.67,107.86 403.16,107.57 404.68,107.34 406.23,107.16 407.80,107.02 409.39,106.93 411.01,106.88 412.64,106.87 415.95,106.96 417.58,107.06 419.30,107.25 421.10,107.51 422.85,107.83 424.52,108.22 425.32,108.45 426.87,108.99 427.61,109.30 428.32,109.64 429.01,110.01 429.67,110.42 430.30,110.86 430.90,111.34 431.47,111.86 432.00,112.41 432.50,113.02 432.97,113.66 433.31,114.20 433.71,116.27 434.14,118.00 434.66,119.71 435.26,121.39 435.59,122.22 436.31,123.85 437.12,125.45 438.00,127.00 438.95,128.51 439.98,129.97 441.08,131.38 442.25,132.73 443.48,134.02 444.77,135.25 446.12,136.42 447.53,137.52 448.99,138.55 450.50,139.50 452.05,140.38 452.84,140.79 454.46,141.56 456.11,142.24 457.79,142.84 459.50,143.36 461.23,143.79 462.98,144.14 463.86,144.28 465.63,144.50 467.41,144.63 469.20,144.68 470.99,144.63 472.77,144.50 474.54,144.28 476.30,143.98 478.04,143.59 479.76,143.11 481.46,142.55 483.12,141.91 484.75,141.19 486.35,140.38 487.90,139.50 489.41,138.55 490.87,137.52 492.28,136.42 493.63,135.25 494.92,134.02 496.15,132.73 497.32,131.38 498.42,129.97 499.45,128.51 500.40,127.00 501.28,125.45 502.09,123.85 502.46,123.04 503.14,121.39 503.74,119.71 504.26,118.00 504.69,116.27 505.04,114.52 505.31,112.75 505.48,110.98 505.57,109.19 505.57,107.41 505.48,105.62 505.40,104.73 505.18,102.96 504.88,101.20 504.49,99.46 504.26,98.60 503.74,96.89 503.14,95.21 502.81,94.38 502.09,92.75 501.28,91.15 500.40,89.60 499.93,88.84 499.45,88.09 498.42,86.63 497.32,85.22 496.75,84.54 495.55,83.22 494.28,81.95 493.63,81.35 492.28,80.18 490.87,79.08 489.41,78.05 488.66,77.57 487.13,76.65 486.35,76.22 484.75,75.41 483.12,74.69 481.46,74.05 480.61,73.76 478.90,73.24 477.17,72.81 476.30,72.62 474.54,72.32 472.77,72.10 470.99,71.97 470.09,71.93 468.31,71.93 466.52,72.02 464.75,72.19 462.98,72.46 461.23,72.81 460.36,73.01 458.64,73.49 456.94,74.05 455.28,74.69 453.65,75.41 452.84,75.81 451.27,76.65 449.74,77.57 448.99,78.05 447.53,79.08 446.12,80.18 444.77,81.35 443.48,82.58 442.25,83.87 441.08,85.22 439.98,86.63 439.46,87.35 438.95,88.09 438.00,89.60 437.12,91.15 436.31,92.75 435.59,94.38 434.82,96.42 434.40,96.89 433.83,97.45 433.23,97.96 432.61,98.42 431.96,98.83 431.29,99.20 430.59,99.53 429.88,99.82 429.14,100.07 428.38,100.29 427.60,100.47 425.98,100.73 425.15,100.83 423.43,100.93 421.66,100.95 419.84,100.90 418.11,100.80 416.49,100.62 413.21,100.15 411.60,99.87 410.02,99.54 408.47,99.18 406.94,98.78 405.45,98.34 403.99,97.86 402.57,97.32 401.18,96.74 399.84,96.12 398.54,95.43 397.28,94.70 396.07,93.91 394.91,93.06 393.80,92.16 392.74,91.19 391.74,90.16 390.80,89.06 389.91,87.90 389.09,86.67 388.33,85.37Z" fill="#ff8000" fill-rule="evenodd"/>
<path d="M152.68,434.31 152.55,432.53 152.33,430.76 152.03,429.00 151.84,428.13 151.41,426.40 150.89,424.69 150.29,423.01 149.61,421.36 148.84,419.74 148.00,418.17 147.08,416.64 146.09,415.15 145.57,414.43 144.47,413.02 143.30,411.67 142.07,410.38 140.78,409.15 139.43,407.98 138.02,406.88 136.56,405.85 135.05,404.90 133.50,404.02 132.71,403.61 131.09,402.84 129.44,402.16 127.76,401.56 126.91,401.29 125.19,400.81 123.45,400.42 121.69,400.12 119.92,399.90 118.14,399.77 116.35,399.72 114.56,399.77 112.78,399.90 111.01,400.12 109.25,400.42 107.51,400.81 105.79,401.29 104.94,401.56 103.26,402.16 101.61,402.84 100.80,403.21 99.20,404.02 97.65,404.90 96.14,405.85 94.68,406.88 93.27,407.98 92.59,408.55 91.27,409.75 90.00,411.02 88.80,412.34 87.67,413.72 86.61,415.15 86.10,415.89 85.15,417.40 84.27,418.95 83.46,420.55 82.74,422.18 82.10,423.84 81.54,425.54 81.29,426.40 80.86,428.13 80.51,429.88 80.24,431.65 80.07,433.42 79.98,435.21 79.97,436.10 80.02,437.89 80.15,439.67 80.37,441.44 80.51,442.32 80.86,444.07 81.29,445.80 81.81,447.51 82.41,449.19 83.09,450.84 83.46,451.65 84.27,453.25 85.15,454.80 86.10,456.31 87.13,457.77 88.23,459.18 89.40,460.53 90.00,461.18 91.27,462.45 91.92,463.05 93.27,464.22 94.68,465.32 96.14,466.35 97.65,467.30 98.42,467.75 99.20,468.18 100.80,468.99 102.43,469.71 104.09,470.35 104.94,470.64 106.65,471.16 108.38,471.59 110.13,471.94 111.01,472.08 112.78,472.30 114.56,472.43 115.46,472.47 116.35,472.48 118.14,472.43 120.06,472.29 120.67,472.47 121.42,472.75 122.13,473.08 122.81,473.45 123.46,473.86 124.08,474.31 124.67,474.81 125.23,475.34 125.77,475.90 126.78,477.13 127.25,477.79 128.14,479.20 128.55,479.94 129.34,481.50 130.08,483.13 130.78,484.84 131.41,486.61 132.36,489.79 132.78,491.36 133.16,492.93 133.49,494.49 133.77,496.04 133.99,497.58 134.17,499.11 134.29,500.63 134.34,502.13 134.34,503.61 134.27,505.08 134.13,506.53 133.93,507.96 133.65,509.37 133.29,510.76 132.86,512.12 132.35,513.46 131.76,514.78 131.07,516.07 130.31,517.34 129.45,518.57 128.66,519.57 126.43,521.23 125.20,522.21 122.82,524.27 120.54,526.44 118.37,528.72 117.32,529.90 115.33,532.33 113.45,534.86 111.70,537.48 110.08,540.18 108.60,542.96 107.91,544.37 106.63,547.25 105.50,550.19 104.51,553.18 103.67,556.21 102.98,559.28 102.44,562.39 102.06,565.51 101.92,567.08 101.77,570.23 101.77,573.37 101.92,576.52 102.06,578.09 102.44,581.21 102.98,584.32 103.67,587.39 104.51,590.42 105.50,593.41 106.05,594.89 107.25,597.80 107.91,599.23 109.32,602.04 110.08,603.42 111.70,606.12 113.45,608.74 115.33,611.27 117.32,613.70 119.44,616.04 120.54,617.16 122.82,619.33 125.20,621.39 127.68,623.33 128.96,624.25 130.26,625.14 132.92,626.83 135.66,628.38 138.47,629.79 139.90,630.45 142.81,631.65 145.78,632.71 148.79,633.63 150.31,634.03 153.38,634.72 156.49,635.26 158.05,635.47 161.18,635.78 164.33,635.93 165.90,635.95 169.05,635.88 172.19,635.64 173.75,635.47 176.87,635.01 179.96,634.39 183.01,633.63 186.02,632.71 187.51,632.20 190.45,631.07 193.33,629.79 196.14,628.38 198.88,626.83 200.22,626.00 202.84,624.25 205.37,622.37 206.60,621.39 208.98,619.33 210.14,618.26 212.36,616.04 214.48,613.70 216.47,611.27 218.35,608.74 220.10,606.12 221.72,603.42 222.48,602.04 223.76,599.51 224.60,598.57 225.67,597.51 226.78,596.53 227.94,595.64 229.13,594.83 230.37,594.09 231.64,593.43 232.95,592.85 234.29,592.33 235.66,591.88 237.06,591.50 238.50,591.18 239.96,590.92 241.45,590.72 242.96,590.57 244.49,590.48 246.05,590.44 247.63,590.45 249.22,590.51 250.83,590.61 252.46,590.75 254.10,590.93 257.41,591.40 290.14,597.27 291.96,597.65 293.73,598.07 295.44,598.54 296.26,598.81 297.85,599.40 298.60,599.72 300.04,600.45 300.72,600.86 301.37,601.29 301.99,601.76 302.58,602.25 303.13,602.79 303.65,603.35 304.13,603.96 304.58,604.60 304.98,605.29 305.26,605.86 305.35,606.87 305.57,608.64 305.87,610.40 306.26,612.14 306.49,613.00 307.01,614.71 307.61,616.39 307.94,617.22 308.66,618.85 309.06,619.66 309.47,620.45 310.35,622.00 311.30,623.51 311.81,624.25 312.33,624.97 313.43,626.38 314.00,627.06 315.20,628.38 316.47,629.65 317.12,630.25 317.79,630.85 319.17,631.98 320.60,633.04 321.34,633.55 322.85,634.50 323.62,634.95 325.19,635.79 326.00,636.19 326.81,636.56 328.46,637.24 329.29,637.55 330.99,638.11 331.85,638.36 333.58,638.79 334.45,638.98 336.21,639.28 337.98,639.50 338.87,639.58 340.66,639.67 342.44,639.67 343.34,639.63 344.23,639.58 346.00,639.41 346.89,639.28 348.65,638.98 349.52,638.79 351.25,638.36 352.11,638.11 353.81,637.55 355.47,636.91 356.29,636.56 357.10,636.19 358.70,635.38 360.25,634.50 361.01,634.03 362.50,633.04 363.22,632.52 364.63,631.42 365.31,630.85 366.63,629.65 367.27,629.02 368.50,627.73 369.67,626.38 370.77,624.97 371.29,624.25 371.80,623.51 372.75,622.00 373.63,620.45 374.44,618.85 375.16,617.22 375.49,616.39 376.09,614.71 376.61,613.00 377.04,611.27 377.39,609.52 377.53,608.64 377.75,606.87 377.88,605.09 377.92,604.19 377.93,603.30 377.88,601.51 377.75,599.73 377.53,597.96 377.39,597.08 377.04,595.33 376.61,593.60 376.09,591.89 375.49,590.21 375.16,589.38 374.44,587.75 373.63,586.15 372.75,584.60 372.28,583.84 371.80,583.09 370.77,581.63 369.67,580.22 368.50,578.87 367.27,577.58 366.63,576.95 365.31,575.75 363.93,574.62 362.50,573.56 361.01,572.57 360.25,572.10 358.70,571.22 357.10,570.41 356.29,570.04 354.64,569.36 352.96,568.76 351.25,568.24 349.52,567.81 347.77,567.46 346.00,567.19 344.23,567.02 342.44,566.93 340.66,566.93 338.87,567.02 337.10,567.19 336.21,567.32 334.45,567.62 332.71,568.01 330.99,568.49 329.29,569.05 327.63,569.69 326.00,570.41 324.40,571.22 322.85,572.10 321.34,573.05 319.88,574.08 318.47,575.18 317.12,576.35 315.83,577.58 314.60,578.87 313.43,580.22 312.33,581.63 311.30,583.09 310.35,584.60 309.47,586.15 308.41,588.29 307.95,588.73 307.33,589.23 306.69,589.68 306.03,590.08 305.35,590.43 304.64,590.74 303.92,591.00 303.18,591.22 302.42,591.40 300.85,591.66 299.21,591.77 297.52,591.77 296.66,591.74 294.90,591.59 293.09,591.37 291.25,591.09 258.52,585.22 255.25,584.51 252.07,583.68 250.53,583.21 249.01,582.71 247.53,582.17 246.09,581.59 244.68,580.97 243.31,580.31 241.99,579.61 240.71,578.86 239.47,578.06 238.29,577.21 237.16,576.31 236.08,575.36 235.06,574.36 234.10,573.30 233.19,572.18 232.36,571.00 231.58,569.76 230.88,568.46 230.24,567.10 229.96,566.37 230.12,565.60 230.51,564.15 230.99,562.75 231.54,561.40 232.17,560.09 232.87,558.84 233.64,557.63 234.48,556.47 235.38,555.35 236.35,554.28 237.37,553.24 238.45,552.25 239.59,551.29 240.77,550.37 242.01,549.49 243.29,548.64 244.62,547.83 245.99,547.05 247.40,546.30 248.84,545.58 250.32,544.89 253.37,543.59 254.80,543.03 255.46,542.80 257.22,542.25 258.94,541.77 260.64,541.38 261.48,541.22 263.13,540.99 263.94,540.93 265.53,540.92 266.31,540.97 267.08,541.06 267.84,541.20 268.58,541.38 269.31,541.61 270.03,541.90 270.74,542.23 271.44,542.62 271.96,542.97 272.88,544.27 273.42,544.98 274.55,546.36 275.75,547.68 277.02,548.95 278.34,550.15 279.72,551.28 281.15,552.34 282.64,553.33 284.17,554.25 285.74,555.09 287.36,555.86 289.01,556.54 290.69,557.14 292.40,557.66 294.13,558.09 295.88,558.44 297.65,558.71 299.42,558.88 301.21,558.97 302.99,558.97 304.78,558.88 306.55,558.71 308.32,558.44 310.07,558.09 311.80,557.66 313.51,557.14 315.19,556.54 316.84,555.86 318.46,555.09 319.25,554.68 320.80,553.80 322.31,552.85 323.77,551.82 325.18,550.72 325.86,550.15 327.18,548.95 328.45,547.68 329.65,546.36 330.22,545.68 331.32,544.27 332.35,542.81 333.30,541.30 334.18,539.75 334.99,538.15 335.71,536.52 336.35,534.86 336.64,534.01 337.16,532.30 337.59,530.57 337.94,528.82 338.08,527.94 338.30,526.17 338.43,524.39 338.48,522.60 338.43,520.81 338.30,519.03 338.21,518.15 337.94,516.38 337.59,514.63 337.16,512.90 336.64,511.19 336.35,510.34 335.71,508.68 334.99,507.05 334.18,505.45 333.30,503.90 332.35,502.39 331.84,501.65 331.32,500.93 330.22,499.52 329.05,498.17 327.82,496.88 326.53,495.65 325.18,494.48 324.48,493.92 323.77,493.38 322.31,492.35 320.80,491.40 320.03,490.95 318.46,490.11 317.65,489.71 316.02,488.99 315.19,488.66 313.51,488.06 312.66,487.79 310.94,487.31 310.07,487.11 309.20,486.92 307.44,486.62 305.67,486.40 304.78,486.32 303.89,486.27 302.10,486.22 300.31,486.27 299.42,486.32 298.53,486.40 296.76,486.62 295.00,486.92 294.13,487.11 293.26,487.31 291.54,487.79 289.84,488.35 288.18,488.99 287.36,489.34 286.55,489.71 284.95,490.52 283.40,491.40 281.89,492.35 280.43,493.38 279.72,493.92 279.02,494.48 277.67,495.65 276.38,496.88 275.75,497.52 274.55,498.84 273.98,499.52 272.88,500.93 272.36,501.65 271.85,502.39 270.90,503.90 270.02,505.45 269.21,507.05 268.49,508.68 268.16,509.51 267.56,511.19 267.29,512.04 266.81,513.76 266.61,514.63 266.42,515.50 266.12,517.26 265.90,519.03 265.82,519.92 265.73,521.71 265.73,523.49 265.82,525.28 265.90,526.19 265.72,526.80 265.43,527.54 265.10,528.25 264.73,528.93 264.32,529.58 263.86,530.19 263.37,530.78 262.83,531.35 262.27,531.88 261.67,532.40 260.37,533.36 259.68,533.81 258.22,534.65 257.45,535.05 255.85,535.81 253.31,536.87 252.66,537.12 251.21,537.60 248.03,538.55 246.45,538.96 244.88,539.33 243.32,539.65 241.77,539.93 240.23,540.15 238.70,540.32 237.18,540.43 235.68,540.48 234.20,540.47 232.73,540.40 231.28,540.26 229.85,540.05 228.44,539.76 227.06,539.41 225.69,538.97 224.35,538.45 223.04,537.85 221.75,537.17 220.49,536.39 219.25,535.53 218.27,534.75 216.47,532.33 215.49,531.10 213.43,528.72 211.26,526.44 210.14,525.34 207.80,523.22 206.60,522.21 204.12,520.27 201.54,518.46 198.88,516.77 196.14,515.22 193.33,513.81 191.90,513.15 190.45,512.53 187.51,511.40 186.02,510.89 183.01,509.97 179.96,509.21 178.42,508.88 175.31,508.34 173.75,508.13 170.62,507.82 169.05,507.72 165.90,507.65 162.75,507.72 160.72,507.86 159.48,507.61 158.03,507.22 156.62,506.74 155.27,506.20 153.97,505.57 152.71,504.88 151.50,504.11 150.33,503.28 149.21,502.38 148.13,501.42 147.09,500.40 146.10,499.32 145.14,498.19 144.21,497.00 143.33,495.77 142.48,494.49 141.66,493.16 140.87,491.80 140.12,490.39 139.39,488.95 138.03,485.97 137.39,484.43 136.72,482.67 136.15,480.92 135.67,479.19 135.27,477.49 134.98,475.83 134.81,474.20 134.78,473.40 134.79,472.61 134.84,471.83 134.93,471.06 135.06,470.30 135.25,469.55 135.48,468.82 135.76,468.10 136.09,467.39 136.48,466.70 136.83,466.16 138.73,464.78 140.11,463.65 140.78,463.05 142.07,461.82 142.70,461.18 143.90,459.86 145.03,458.48 145.57,457.77 146.09,457.05 147.08,455.56 147.55,454.80 148.43,453.25 149.24,451.65 149.96,450.02 150.60,448.36 150.89,447.51 151.41,445.80 151.84,444.07 152.03,443.20 152.33,441.44 152.46,440.55 152.63,438.78 152.68,437.89 152.73,436.10Z" fill="#ff0000" fill-rule="evenodd"/>
<path d="M639.82,445.61 639.73,443.82 639.56,442.05 639.29,440.28 638.94,438.53 638.51,436.80 638.26,435.94 637.70,434.24 637.06,432.58 636.71,431.76 635.94,430.14 635.10,428.57 634.18,427.04 633.19,425.55 632.67,424.83 631.57,423.42 631.00,422.74 629.80,421.42 628.53,420.15 627.21,418.95 626.53,418.38 625.12,417.28 623.66,416.25 622.15,415.30 620.60,414.42 619.81,414.01 619.00,413.61 617.37,412.89 615.71,412.25 614.01,411.69 612.29,411.21 611.42,411.01 610.55,410.82 608.79,410.52 607.02,410.30 605.24,410.17 603.45,410.12 602.56,410.13 601.66,410.17 599.88,410.30 598.11,410.52 596.35,410.82 594.61,411.21 592.89,411.69 592.04,411.96 590.36,412.56 588.71,413.24 587.09,414.01 586.30,414.42 584.75,415.30 583.24,416.25 581.78,417.28 580.37,418.38 579.69,418.95 578.37,420.15 577.10,421.42 575.90,422.74 574.77,424.12 573.71,425.55 572.72,427.04 572.25,427.80 571.37,429.35 570.56,430.95 569.84,432.58 569.51,433.41 568.91,435.09 568.39,436.80 567.96,438.53 567.77,439.40 567.47,441.16 567.34,442.05 567.17,443.82 567.12,444.71 567.08,445.61 567.08,447.39 567.17,449.18 567.25,450.07 567.47,451.84 567.77,453.60 567.96,454.47 568.39,456.20 568.64,457.06 569.20,458.76 569.51,459.59 569.84,460.42 570.56,462.05 571.37,463.65 571.80,464.43 572.72,465.96 573.20,466.71 573.71,467.45 574.77,468.88 575.33,469.58 576.50,470.93 578.07,472.56 578.32,473.14 578.59,473.90 578.79,474.65 578.94,475.41 579.04,476.17 579.09,476.94 579.09,477.71 579.05,478.48 578.96,479.26 578.66,480.82 578.22,482.40 577.65,483.99 576.96,485.59 576.18,487.21 575.01,489.41 573.32,492.09 572.40,493.46 571.46,494.79 570.50,496.09 569.51,497.34 568.50,498.55 567.47,499.72 566.41,500.83 565.32,501.89 564.21,502.90 563.06,503.85 561.89,504.73 560.69,505.56 559.46,506.32 558.20,507.01 556.91,507.63 555.59,508.17 554.23,508.64 552.84,509.03 551.41,509.34 549.95,509.56 548.45,509.69 547.18,509.73 545.06,509.21 541.97,508.59 538.85,508.13 535.72,507.82 534.15,507.72 531.00,507.65 527.85,507.72 524.71,507.96 523.15,508.13 521.59,508.34 518.48,508.88 515.41,509.57 512.38,510.41 509.39,511.40 507.91,511.95 505.00,513.15 502.16,514.50 500.76,515.22 498.02,516.77 495.36,518.46 492.78,520.27 490.30,522.21 489.10,523.22 487.92,524.27 485.64,526.44 483.47,528.72 481.41,531.10 480.43,532.33 478.55,534.86 476.80,537.48 475.60,539.46 474.68,540.34 473.53,541.31 472.34,542.19 471.11,542.98 469.85,543.70 468.56,544.33 467.24,544.88 465.89,545.36 464.51,545.77 463.11,546.10 461.68,546.37 460.22,546.57 458.74,546.71 457.25,546.79 455.73,546.81 454.19,546.78 452.64,546.69 451.07,546.55 449.48,546.37 447.17,546.01 446.32,545.67 444.79,544.95 443.36,544.15 442.69,543.72 442.04,543.26 441.43,542.78 440.85,542.26 440.31,541.72 439.80,541.14 439.33,540.53 438.90,539.89 438.51,539.21 438.16,538.50 437.92,537.91 437.88,535.71 437.75,533.93 437.53,532.16 437.39,531.28 437.04,529.53 436.61,527.80 436.09,526.09 435.80,525.24 435.16,523.58 434.44,521.95 434.04,521.14 433.63,520.35 432.75,518.80 431.80,517.29 430.77,515.83 429.67,514.42 429.10,513.74 427.90,512.42 427.27,511.78 425.98,510.55 424.63,509.38 423.22,508.28 422.50,507.76 421.01,506.77 419.48,505.85 417.91,505.01 416.29,504.24 414.64,503.56 412.96,502.96 412.11,502.69 410.39,502.21 408.65,501.82 406.89,501.52 405.12,501.30 403.34,501.17 401.55,501.12 400.66,501.13 398.87,501.22 397.10,501.39 395.33,501.66 393.58,502.01 391.85,502.44 390.14,502.96 389.29,503.25 387.63,503.89 386.00,504.61 384.40,505.42 382.85,506.30 381.34,507.25 379.88,508.28 378.47,509.38 377.12,510.55 376.47,511.15 375.20,512.42 374.00,513.74 373.43,514.42 372.33,515.83 371.30,517.29 370.35,518.80 369.47,520.35 368.66,521.95 367.94,523.58 367.61,524.41 367.01,526.09 366.49,527.80 366.06,529.53 365.71,531.28 365.57,532.16 365.35,533.93 365.22,535.71 365.17,537.50 365.22,539.29 365.35,541.07 365.57,542.84 365.71,543.72 366.06,545.47 366.49,547.20 367.01,548.91 367.61,550.59 367.94,551.42 368.66,553.05 369.47,554.65 369.90,555.43 370.35,556.20 371.30,557.71 372.33,559.17 372.87,559.88 374.00,561.26 374.60,561.93 375.83,563.22 376.47,563.85 377.79,565.05 378.47,565.62 379.17,566.18 380.60,567.24 382.09,568.23 382.85,568.70 384.40,569.58 385.19,569.99 386.81,570.76 387.63,571.11 389.29,571.75 390.99,572.31 391.85,572.56 393.58,572.99 394.45,573.18 396.21,573.48 397.10,573.61 398.87,573.78 399.76,573.83 400.66,573.87 402.44,573.87 404.23,573.78 405.12,573.70 406.89,573.48 408.65,573.18 409.52,572.99 411.25,572.56 412.11,572.31 413.81,571.75 414.64,571.44 415.47,571.11 417.10,570.39 418.70,569.58 419.48,569.15 421.01,568.23 422.50,567.24 423.22,566.72 424.63,565.62 425.98,564.45 427.27,563.22 428.50,561.93 429.67,560.58 430.23,559.88 430.77,559.17 431.80,557.71 432.75,556.20 433.35,555.16 433.85,554.76 434.51,554.31 435.18,553.92 435.87,553.57 436.58,553.27 437.31,553.03 438.05,552.82 438.81,552.66 439.58,552.54 441.17,552.42 441.98,552.41 443.64,552.49 445.40,552.69 447.58,553.53 449.05,554.15 450.48,554.81 451.88,555.51 453.23,556.24 454.54,557.01 455.80,557.82 457.02,558.67 458.18,559.57 459.29,560.51 460.35,561.50 461.34,562.53 462.28,563.62 463.15,564.75 463.96,565.94 464.70,567.18 465.37,568.48 465.97,569.83 466.49,571.25 466.86,572.46 466.92,574.95 467.02,576.52 467.33,579.65 467.54,581.21 468.08,584.32 468.77,587.39 469.17,588.91 470.09,591.92 471.15,594.89 472.35,597.80 473.70,600.64 475.18,603.42 475.97,604.78 477.66,607.44 478.55,608.74 480.43,611.27 482.42,613.70 484.54,616.04 485.64,617.16 487.92,619.33 490.30,621.39 492.78,623.33 494.06,624.25 496.68,626.00 498.02,626.83 500.76,628.38 503.57,629.79 505.00,630.45 507.91,631.65 509.39,632.20 512.38,633.19 515.41,634.03 518.48,634.72 520.03,635.01 523.15,635.47 526.28,635.78 527.85,635.88 531.00,635.95 534.15,635.88 535.72,635.78 538.85,635.47 541.97,635.01 543.52,634.72 546.59,634.03 549.62,633.19 552.61,632.20 554.09,631.65 557.00,630.45 558.43,629.79 561.24,628.38 563.98,626.83 566.64,625.14 567.94,624.25 570.47,622.37 571.70,621.39 572.90,620.38 575.24,618.26 577.46,616.04 579.58,613.70 580.59,612.50 582.53,610.02 584.34,607.44 585.20,606.12 586.03,604.78 587.58,602.04 588.99,599.23 589.65,597.80 590.85,594.89 591.40,593.41 592.39,590.42 592.83,588.91 593.59,585.86 594.21,582.77 594.67,579.65 594.98,576.52 595.08,574.95 595.15,571.80 595.08,568.65 594.98,567.08 594.67,563.95 594.46,562.39 593.92,559.28 593.23,556.21 592.83,554.69 591.91,551.68 590.85,548.71 589.65,545.80 588.30,542.96 586.82,540.18 586.03,538.82 584.34,536.16 582.53,533.58 581.57,532.33 579.58,529.90 578.53,528.72 576.73,526.81 576.13,525.69 575.49,524.33 574.95,522.95 574.51,521.56 574.15,520.16 573.88,518.75 573.69,517.33 573.58,515.90 573.55,514.46 573.60,513.02 573.71,511.57 573.90,510.11 574.15,508.65 574.47,507.18 574.85,505.71 575.28,504.23 575.77,502.76 576.32,501.28 576.91,499.80 577.55,498.32 578.97,495.36 580.45,492.56 581.28,491.21 582.28,489.69 583.30,488.25 583.83,487.57 584.92,486.27 585.49,485.67 586.66,484.57 587.28,484.07 587.90,483.60 588.55,483.18 589.22,482.80 589.91,482.46 590.62,482.16 591.35,481.92 592.11,481.72 592.89,481.57 593.52,481.50 595.48,481.99 597.23,482.34 598.11,482.48 599.88,482.70 601.66,482.83 602.56,482.87 603.45,482.88 605.24,482.83 607.02,482.70 608.79,482.48 610.55,482.18 611.42,481.99 612.29,481.79 614.01,481.31 615.71,480.75 617.37,480.11 619.00,479.39 619.81,478.99 620.60,478.58 622.15,477.70 623.66,476.75 625.12,475.72 626.53,474.62 627.21,474.05 628.53,472.85 629.80,471.58 631.00,470.26 632.13,468.88 632.67,468.17 633.70,466.71 634.65,465.20 635.53,463.65 635.94,462.86 636.71,461.24 637.06,460.42 637.70,458.76 638.26,457.06 638.74,455.34 639.13,453.60 639.29,452.72 639.56,450.95 639.73,449.18 639.82,447.39Z" fill="#008000" fill-rule="evenodd"/>
<path d="M755.97,413.71 755.88,411.92 755.71,410.15 755.58,409.26 755.28,407.50 755.09,406.63 754.66,404.90 754.41,404.04 753.85,402.34 753.21,400.68 752.86,399.86 752.09,398.24 751.68,397.45 750.80,395.90 750.33,395.14 749.34,393.65 748.28,392.22 747.72,391.52 746.55,390.17 745.95,389.52 744.68,388.25 743.36,387.05 742.68,386.48 741.27,385.38 739.81,384.35 738.30,383.40 737.53,382.95 735.96,382.11 735.15,381.71 733.52,380.99 731.86,380.35 730.16,379.79 729.30,379.54 728.44,379.31 726.70,378.92 724.94,378.62 724.05,378.49 723.17,378.40 721.39,378.27 719.60,378.22 717.81,378.27 716.03,378.40 715.15,378.49 714.26,378.62 712.50,378.92 710.76,379.31 709.04,379.79 708.19,380.06 706.51,380.66 705.68,380.99 704.05,381.71 702.45,382.52 700.90,383.40 699.39,384.35 698.65,384.86 697.93,385.38 696.52,386.48 695.17,387.65 693.88,388.88 693.25,389.52 692.05,390.84 690.92,392.22 690.38,392.93 689.86,393.65 688.87,395.14 687.95,396.67 687.11,398.24 686.34,399.86 685.99,400.68 685.35,402.34 684.79,404.04 684.31,405.76 683.92,407.50 683.62,409.26 683.49,410.15 683.32,411.92 683.23,413.71 683.23,415.49 683.32,417.28 683.49,419.05 683.62,419.94 683.92,421.70 684.31,423.44 684.79,425.16 685.35,426.86 685.99,428.52 686.34,429.34 687.11,430.96 687.95,432.53 688.87,434.06 689.86,435.55 690.92,436.98 692.05,438.36 693.25,439.68 694.52,440.95 695.84,442.15 697.22,443.28 697.93,443.82 699.23,444.74 699.58,445.27 699.97,445.96 700.31,446.67 700.59,447.39 700.82,448.12 701.01,448.87 701.14,449.62 701.24,450.39 701.29,451.17 701.27,452.76 701.21,453.57 700.99,455.22 700.63,456.97 699.59,459.10 698.84,460.51 698.06,461.88 697.25,463.20 696.40,464.49 695.52,465.72 694.60,466.91 693.65,468.05 692.65,469.13 691.62,470.15 690.54,471.12 689.42,472.02 688.26,472.86 687.05,473.63 685.80,474.33 684.50,474.96 683.15,475.51 681.74,475.99 680.29,476.38 679.06,476.64 677.25,476.52 674.10,476.45 670.95,476.52 667.81,476.76 664.69,477.14 661.58,477.68 658.51,478.37 655.48,479.21 652.49,480.20 651.01,480.75 648.10,481.95 645.26,483.30 642.48,484.78 639.78,486.40 638.46,487.26 635.88,489.07 634.63,490.03 632.20,492.02 629.86,494.14 627.64,496.36 626.57,497.52 624.51,499.90 622.57,502.38 620.76,504.96 619.07,507.62 617.52,510.36 616.11,513.17 615.45,514.60 614.25,517.51 613.70,518.99 612.71,521.98 611.87,525.01 611.18,528.08 610.89,529.63 610.43,532.75 610.26,534.31 610.12,535.88 609.97,539.03 609.97,542.17 610.02,543.75 610.12,545.32 610.43,548.45 610.89,551.57 611.18,553.12 611.87,556.19 612.71,559.22 613.70,562.21 614.25,563.69 615.45,566.60 616.11,568.03 617.52,570.84 618.28,572.22 619.90,574.92 621.65,577.54 622.57,578.82 624.51,581.30 626.57,583.68 628.74,585.96 629.86,587.06 632.20,589.18 634.63,591.17 635.88,592.13 637.16,593.05 639.78,594.80 642.48,596.42 645.26,597.90 648.10,599.25 651.01,600.45 653.98,601.51 656.99,602.43 660.04,603.19 663.13,603.81 666.25,604.27 669.38,604.58 672.53,604.73 675.67,604.73 678.82,604.58 681.95,604.27 685.07,603.81 688.16,603.19 691.21,602.43 694.22,601.51 697.19,600.45 700.10,599.25 702.94,597.90 705.72,596.42 708.42,594.80 711.04,593.05 713.57,591.17 716.00,589.18 718.34,587.06 720.56,584.84 722.68,582.50 724.67,580.07 726.55,577.54 728.30,574.92 729.92,572.22 731.40,569.44 732.75,566.60 733.95,563.69 735.01,560.72 735.93,557.71 736.69,554.66 737.02,553.12 737.56,550.01 737.94,546.89 738.18,543.75 738.25,540.60 738.18,537.45 737.94,534.31 737.56,531.19 737.02,528.08 736.33,525.01 735.49,521.98 734.50,518.99 733.95,517.51 732.75,514.60 731.40,511.76 729.92,508.98 728.30,506.28 726.55,503.66 724.67,501.13 722.68,498.70 720.56,496.36 718.34,494.14 716.00,492.02 713.57,490.03 711.15,488.23 710.36,487.24 709.50,486.01 708.73,484.75 708.04,483.46 707.44,482.15 706.92,480.80 706.49,479.44 706.13,478.05 705.84,476.64 705.63,475.21 705.49,473.77 705.42,472.30 705.41,470.81 705.46,469.31 705.57,467.80 705.74,466.27 705.96,464.73 706.24,463.18 706.56,461.62 707.12,459.32 707.97,457.74 708.85,456.33 709.32,455.67 710.32,454.43 710.86,453.87 711.42,453.33 712.01,452.84 712.63,452.38 713.27,451.97 713.95,451.60 714.66,451.27 715.41,450.98 716.01,450.80 717.81,450.93 719.60,450.98 721.39,450.93 723.17,450.80 724.05,450.71 724.94,450.58 726.70,450.28 728.44,449.89 730.16,449.41 731.86,448.85 733.52,448.21 735.15,447.49 736.75,446.68 738.30,445.80 739.06,445.33 740.55,444.34 741.27,443.82 742.68,442.72 744.03,441.55 745.32,440.32 746.55,439.03 747.72,437.68 748.82,436.27 749.85,434.81 750.80,433.30 751.68,431.75 752.49,430.15 753.21,428.52 753.85,426.86 754.41,425.16 754.89,423.44 755.28,421.70 755.58,419.94 755.80,418.17 755.88,417.28 755.97,415.49Z" fill="#800080" fill-rule="evenodd"/>
<path d="M134.24,247.72 132.01,249.35 129.71,250.87 127.35,252.30 124.93,253.62 122.46,254.83 119.93,255.94 117.36,256.93 114.75,257.81 112.10,258.57 109.42,259.22 106.71,259.75 103.99,260.16 101.25,260.46 98.49,260.63 95.74,260.68 95.74,260.98 97.41,261.03 99.02,261.17 100.58,261.40 102.09,261.72 103.54,262.11 104.94,262.59 106.29,263.14 107.60,263.77 108.85,264.47 110.06,265.24 111.22,266.08 112.34,266.98 113.42,267.95 114.45,268.97 115.44,270.05 116.40,271.19 117.32,272.38 118.20,273.61 119.05,274.90 119.86,276.22 120.64,277.59 121.39,279.00 122.46,281.20 122.68,282.19 122.96,283.86 123.12,285.49 123.15,286.29 123.14,287.08 123.09,287.86 123.00,288.63 122.86,289.38 122.67,290.13 122.44,290.86 122.16,291.58 121.82,292.29 121.43,292.98 120.98,293.66 120.47,294.33 119.90,294.98 119.27,295.62 118.57,296.24 118.76,296.47 119.97,295.50 121.21,294.59 122.50,293.74 123.82,292.94 125.18,292.20 126.57,291.52 127.98,290.90 129.42,290.35 130.89,289.85 132.37,289.42 133.87,289.06 135.39,288.76 136.92,288.53 138.45,288.37 140.00,288.27 141.54,288.24 141.54,287.94 140.61,287.91 139.71,287.83 138.86,287.69 138.04,287.50 137.26,287.27 136.51,286.98 135.80,286.65 135.13,286.28 134.48,285.87 133.86,285.41 133.27,284.91 132.71,284.38 132.17,283.82 131.66,283.21 130.70,281.92 129.82,280.51 129.00,279.00 128.94,278.87 128.73,278.06 128.36,276.48 128.04,274.92 127.76,273.37 127.54,271.83 127.37,270.30 127.26,268.79 127.21,267.29 127.22,265.80 127.29,264.34 127.43,262.89 127.64,261.46 127.93,260.05 128.29,258.66 128.72,257.30 129.24,255.96 129.84,254.64 130.53,253.35 131.30,252.09 132.16,250.86 133.12,249.65 134.18,248.48 135.33,247.34 136.58,246.24 136.39,246.00Z" fill="url(#g0)" stroke="url(#g0)" stroke-width="1.2" stroke-linejoin="round" fill-rule="evenodd"/>
<path d="M589.76,240.50 590.32,239.75 590.90,239.06 591.49,238.43 592.11,237.87 592.75,237.36 593.41,236.91 594.08,236.51 594.78,236.17 595.49,235.87 596.21,235.62 596.95,235.42 597.71,235.26 598.48,235.14 599.27,235.06 600.88,235.01 602.54,235.09 604.32,235.29 606.53,236.14 608.00,236.76 609.43,237.42 610.83,238.11 612.18,238.84 613.49,239.61 614.75,240.43 615.97,241.28 617.13,242.17 618.24,243.11 619.30,244.10 620.29,245.14 621.23,246.22 622.10,247.36 622.91,248.55 623.65,249.79 624.32,251.08 624.92,252.44 625.44,253.85 625.88,255.32 626.25,256.86 626.53,258.45 626.72,260.12 627.02,260.09 626.84,257.34 626.77,254.58 626.82,251.83 626.99,249.07 627.28,246.33 627.70,243.61 628.23,240.90 628.87,238.22 629.64,235.57 630.52,232.96 631.51,230.39 632.61,227.86 633.82,225.39 635.14,222.97 636.56,220.61 638.09,218.31 637.84,218.14 636.85,219.48 635.82,220.73 634.74,221.88 633.63,222.94 632.47,223.91 631.28,224.79 630.06,225.59 628.80,226.30 627.51,226.93 626.19,227.49 624.84,227.97 623.46,228.37 622.06,228.71 620.62,228.98 619.17,229.18 617.69,229.32 616.19,229.40 614.67,229.42 613.14,229.38 611.58,229.30 610.01,229.16 608.43,228.97 606.09,228.62 604.44,227.91 602.96,227.16 601.59,226.32 600.94,225.86 600.33,225.37 599.75,224.86 599.21,224.31 598.70,223.74 598.23,223.13 597.80,222.49 597.41,221.81 597.06,221.09 596.76,220.34 596.50,219.54 596.29,218.70 596.13,217.81 596.01,216.89 595.72,216.91 595.82,218.45 595.86,220.00 595.83,221.54 595.73,223.08 595.57,224.62 595.34,226.15 595.04,227.66 594.68,229.17 594.25,230.65 593.76,232.11 593.20,233.56 592.58,234.97 591.91,236.36 591.17,237.72 590.37,239.04 589.51,240.33Z" fill="url(#g1)" stroke="url(#g1)" stroke-width="1.2" stroke-linejoin="round" fill-rule="evenodd"/>
<path d="M207.38,335.17 208.27,335.44 209.11,335.75 209.91,336.11 210.65,336.50 211.34,336.93 211.98,337.40 212.59,337.90 213.14,338.43 213.66,339.00 214.14,339.60 214.58,340.23 214.99,340.89 215.36,341.58 215.70,342.29 216.29,343.79 216.78,345.38 216.99,346.21 217.34,347.92 217.63,349.69 217.94,352.32 218.10,355.61 218.12,358.89 218.07,360.51 217.98,362.10 217.84,363.67 217.66,365.22 217.43,366.74 217.14,368.23 216.81,369.69 216.41,371.12 215.96,372.52 215.45,373.88 214.88,375.21 214.24,376.50 213.53,377.74 212.76,378.95 211.91,380.11 210.99,381.23 210.00,382.29 208.92,383.31 207.77,384.28 206.53,385.19 205.21,386.05 203.80,386.86 202.31,387.60 202.43,387.87 204.96,386.77 207.53,385.78 210.14,384.90 212.79,384.13 215.47,383.48 218.17,382.95 220.90,382.54 223.64,382.24 226.39,382.07 229.15,382.02 231.90,382.08 234.65,382.27 237.39,382.58 240.12,383.00 242.82,383.55 245.50,384.21 245.57,383.92 243.97,383.44 242.45,382.88 241.00,382.26 239.63,381.57 238.33,380.81 237.10,379.99 235.94,379.10 234.84,378.16 233.81,377.16 232.84,376.10 231.94,374.99 231.09,373.83 230.30,372.62 229.57,371.36 228.88,370.06 228.26,368.72 227.68,367.33 227.14,365.91 226.66,364.45 226.22,362.96 225.82,361.43 225.46,359.88 225.13,358.30 224.60,355.06 224.20,351.79 224.07,349.14 224.05,347.35 224.11,345.60 224.17,344.75 224.38,343.10 224.71,341.52 224.93,340.76 225.18,340.02 225.47,339.31 225.80,338.61 226.17,337.94 226.58,337.29 227.04,336.67 227.55,336.07 228.11,335.50 228.72,334.96 229.38,334.45 230.10,333.97 230.88,333.52 231.72,333.10 231.59,332.83 230.17,333.45 228.73,334.00 227.27,334.50 225.78,334.92 224.28,335.29 222.77,335.59 221.24,335.82 219.70,335.98 218.16,336.08 216.62,336.11 215.07,336.07 213.53,335.97 212.00,335.80 210.47,335.56 208.95,335.25 207.46,334.88Z" fill="url(#g2)" stroke="url(#g2)" stroke-width="1.2" stroke-linejoin="round" fill-rule="evenodd"/>
<path d="M266.03,357.22 266.60,357.96 267.11,358.70 267.56,359.44 267.94,360.19 268.26,360.93 268.52,361.69 268.72,362.44 268.87,363.20 268.97,363.97 269.02,364.73 269.02,365.50 268.97,366.27 268.88,367.05 268.58,368.61 268.38,369.40 268.08,370.34 266.68,372.04 265.64,373.20 264.58,374.31 263.49,375.37 262.37,376.38 261.23,377.32 260.05,378.21 258.85,379.03 257.62,379.79 256.36,380.47 255.07,381.09 253.74,381.63 252.38,382.10 250.99,382.48 249.56,382.79 248.09,383.00 246.59,383.13 245.06,383.17 243.48,383.12 241.87,382.97 240.21,382.72 240.16,383.01 242.86,383.56 245.54,384.22 248.18,385.00 250.79,385.89 253.36,386.90 255.88,388.02 258.35,389.24 260.76,390.58 263.11,392.02 265.40,393.55 267.62,395.19 269.76,396.92 271.83,398.75 273.81,400.66 275.71,402.66 277.52,404.73 277.75,404.54 276.72,403.23 275.79,401.90 274.96,400.56 274.24,399.20 273.61,397.84 273.07,396.46 272.63,395.06 272.27,393.66 272.00,392.25 271.82,390.83 271.71,389.40 271.69,387.96 271.74,386.52 271.86,385.07 272.05,383.61 272.30,382.15 272.62,380.68 273.00,379.21 273.44,377.74 273.94,376.27 274.72,374.20 275.40,373.48 275.98,372.91 277.19,371.88 277.82,371.42 278.46,370.99 279.13,370.61 279.82,370.27 280.53,369.98 281.27,369.74 282.03,369.54 282.81,369.39 283.62,369.30 284.46,369.26 285.32,369.28 286.22,369.36 287.14,369.50 287.20,369.20 285.68,368.90 284.18,368.52 282.70,368.09 281.24,367.59 279.80,367.02 278.45,366.42 279.57,364.44 274.17,361.30 273.00,363.25 271.81,362.38 270.61,361.41 269.45,360.38 268.34,359.31 267.27,358.19 266.26,357.03Z" fill="url(#g3)" stroke="url(#g3)" stroke-width="1.2" stroke-linejoin="round" fill-rule="evenodd"/>
<path d="M289.28,426.28 290.05,428.92 290.70,431.60 291.24,434.31 291.65,437.03 291.95,439.77 292.13,442.52 292.18,445.28 292.12,448.04 291.94,450.79 291.63,453.53 291.21,456.25 290.67,458.95 290.01,461.63 289.23,464.28 288.35,466.89 288.63,466.99 289.24,465.43 289.93,463.96 290.67,462.58 291.48,461.27 292.35,460.04 293.27,458.88 294.25,457.80 295.29,456.79 296.38,455.85 297.51,454.98 298.70,454.17 299.93,453.43 301.20,452.74 302.51,452.12 303.87,451.55 305.26,451.04 306.69,450.58 308.16,450.18 309.65,449.82 311.18,449.51 312.73,449.24 314.31,449.01 315.91,448.83 317.54,448.68 320.85,448.50 324.22,448.45 333.14,448.46 335.94,448.52 337.76,448.63 339.52,448.80 341.22,449.05 342.04,449.22 343.63,449.62 344.39,449.87 345.13,450.15 345.84,450.46 346.53,450.81 347.20,451.20 347.84,451.63 348.45,452.10 349.03,452.61 349.58,453.16 350.10,453.77 350.58,454.42 351.03,455.13 351.45,455.89 351.83,456.70 352.18,457.57 352.46,457.47 351.97,456.00 351.54,454.52 351.17,453.02 350.87,451.50 350.64,449.98 350.47,448.44 350.37,446.90 350.34,445.35 350.38,443.81 350.48,442.27 350.65,440.73 350.89,439.21 351.19,437.69 351.56,436.19 351.99,434.71 352.49,433.25 352.21,433.14 351.86,434.01 351.48,434.83 351.06,435.58 350.60,436.29 350.12,436.94 349.60,437.54 349.04,438.10 348.46,438.61 347.85,439.08 347.21,439.50 346.55,439.89 345.85,440.23 345.14,440.55 344.40,440.82 342.85,441.28 341.23,441.63 340.39,441.77 338.65,441.97 336.86,442.11 334.09,442.20 322.53,442.18 319.19,442.05 315.92,441.79 314.32,441.60 312.74,441.38 311.19,441.10 309.66,440.79 308.17,440.43 306.71,440.01 305.28,439.55 303.89,439.04 302.53,438.47 301.22,437.84 299.95,437.16 298.72,436.41 297.54,435.60 296.40,434.72 295.32,433.78 294.29,432.77 293.31,431.68 292.39,430.53 291.52,429.29 290.72,427.98 289.97,426.59 289.30,425.12 288.68,423.56 288.40,423.67Z" fill="url(#g4)" stroke="url(#g4)" stroke-width="1.2" stroke-linejoin="round" fill-rule="evenodd"/>
<path d="M387.12,393.50 387.85,392.92 388.59,392.40 389.33,391.95 390.08,391.57 390.82,391.24 391.57,390.98 392.33,390.77 393.09,390.62 393.85,390.51 394.62,390.46 395.39,390.46 396.16,390.50 396.94,390.59 397.72,390.71 399.29,391.08 400.87,391.59 401.67,391.89 403.27,392.57 404.89,393.34 407.32,394.63 410.21,396.43 412.92,398.28 414.22,399.24 415.47,400.22 416.68,401.23 417.85,402.26 418.97,403.32 420.03,404.40 421.04,405.51 421.99,406.65 422.89,407.82 423.72,409.01 424.48,410.24 425.17,411.50 425.80,412.79 426.35,414.11 426.82,415.47 427.21,416.86 427.52,418.29 427.75,419.75 427.89,421.25 427.93,422.79 427.89,424.36 427.74,425.98 427.50,427.63 427.80,427.68 428.33,424.98 428.98,422.30 429.74,419.65 430.62,417.04 431.62,414.47 432.72,411.94 433.93,409.46 435.25,407.04 436.68,404.68 438.20,402.39 439.83,400.16 441.55,398.01 443.36,395.93 445.26,393.93 447.25,392.02 449.32,390.20 449.12,389.97 447.82,391.01 446.49,391.95 445.15,392.78 443.80,393.52 442.44,394.16 441.06,394.70 439.67,395.15 438.27,395.51 436.86,395.79 435.45,395.98 434.02,396.09 432.58,396.13 431.13,396.09 429.68,395.98 428.23,395.80 426.76,395.55 425.29,395.23 423.82,394.86 422.35,394.43 420.87,393.94 419.39,393.40 417.90,392.81 416.42,392.18 413.46,390.77 410.44,389.18 408.11,387.74 406.62,386.73 405.23,385.69 404.57,385.15 403.33,384.04 402.22,382.87 401.72,382.26 401.25,381.63 400.83,380.98 400.44,380.32 400.10,379.63 399.80,378.92 399.55,378.19 399.35,377.43 399.20,376.65 399.11,375.84 399.06,375.00 399.08,374.14 399.15,373.24 399.28,372.31 398.99,372.26 398.69,373.78 398.33,375.28 397.90,376.76 397.40,378.23 396.85,379.67 396.23,381.08 395.55,382.47 394.81,383.83 394.01,385.15 393.16,386.44 392.25,387.69 391.28,388.89 390.27,390.06 389.20,391.18 388.09,392.25 386.93,393.27Z" fill="url(#g5)" stroke="url(#g5)" stroke-width="1.2" stroke-linejoin="round" fill-rule="evenodd"/>
<path d="M427.05,358.13 428.10,357.97 429.12,357.88 430.10,357.86 431.05,357.90 431.98,358.00 432.87,358.17 433.73,358.39 434.57,358.67 435.38,359.00 436.16,359.38 436.92,359.81 437.66,360.29 438.38,360.82 439.08,361.38 440.42,362.64 441.69,364.03 442.92,365.56 443.51,366.88 444.13,368.35 444.69,369.82 445.21,371.28 445.67,372.74 446.07,374.20 446.41,375.66 446.69,377.11 446.90,378.55 447.05,379.99 447.12,381.42 447.11,382.85 447.03,384.27 446.86,385.68 446.61,387.08 446.28,388.47 445.85,389.86 445.33,391.23 444.71,392.59 444.00,393.94 443.18,395.28 442.26,396.61 441.23,397.93 441.46,398.12 443.26,396.04 445.16,394.04 447.14,392.12 449.21,390.29 451.35,388.56 453.56,386.92 455.85,385.37 458.20,383.93 460.61,382.60 463.08,381.36 465.59,380.24 468.16,379.23 470.76,378.33 473.41,377.55 476.08,376.88 478.78,376.33 478.73,376.03 477.08,376.29 475.47,376.44 473.90,376.49 472.37,376.45 470.88,376.32 469.43,376.09 468.01,375.79 466.64,375.39 465.29,374.92 463.98,374.37 462.71,373.75 461.46,373.05 460.25,372.28 459.07,371.45 457.91,370.56 456.79,369.60 455.69,368.59 454.62,367.52 453.57,366.40 452.55,365.23 451.55,364.02 450.57,362.76 449.71,361.59 448.99,359.78 448.40,357.98 447.97,356.19 447.82,355.31 447.71,354.43 447.66,353.55 447.66,352.67 447.71,351.80 447.82,350.93 447.99,350.07 448.22,349.21 448.51,348.35 448.88,347.50 449.31,346.65 449.81,345.80 450.39,344.96 451.05,344.12 450.82,343.93 449.66,345.25 448.45,346.53 447.19,347.75 445.87,348.92 444.50,350.03 443.09,351.08 441.63,352.06 440.13,352.98 438.59,353.83 437.02,354.62 435.41,355.34 433.77,355.98 432.11,356.56 430.42,357.06 428.72,357.48 426.99,357.83Z" fill="url(#g6)" stroke="url(#g6)" stroke-width="1.2" stroke-linejoin="round" fill-rule="evenodd"/>
<path d="M477.88,327.40 478.74,327.75 479.56,328.13 480.31,328.55 481.02,329.00 481.67,329.49 482.28,330.01 482.83,330.56 483.34,331.14 483.81,331.75 484.24,332.39 484.62,333.06 484.97,333.75 485.28,334.47 485.81,335.97 486.21,337.55 486.37,338.38 486.63,340.08 486.85,342.74 486.94,345.18 486.82,348.31 486.56,351.58 486.37,353.18 486.15,354.76 485.88,356.32 485.56,357.84 485.20,359.34 484.79,360.80 484.33,362.23 483.82,363.62 483.25,364.97 482.62,366.29 481.94,367.56 481.19,368.79 480.38,369.97 479.51,371.11 478.57,372.19 477.56,373.22 476.47,374.20 475.32,375.13 474.08,375.99 472.77,376.80 471.39,377.54 469.91,378.22 468.36,378.84 468.46,379.12 471.07,378.23 473.72,377.46 476.40,376.81 479.10,376.27 481.82,375.85 484.56,375.56 487.32,375.38 490.07,375.32 492.83,375.38 495.58,375.56 498.32,375.86 501.04,376.28 503.75,376.82 506.42,377.48 509.07,378.25 511.68,379.13 511.78,378.85 510.23,378.24 508.76,377.56 507.37,376.81 506.06,376.00 504.83,375.14 503.67,374.21 502.59,373.23 501.58,372.20 500.64,371.11 499.76,369.98 498.96,368.80 498.21,367.57 497.53,366.29 496.90,364.98 496.33,363.62 495.82,362.23 495.36,360.80 494.95,359.34 494.59,357.84 494.28,356.32 494.01,354.77 493.78,353.19 493.60,351.58 493.34,348.31 493.23,345.19 493.31,342.74 493.54,340.08 493.80,338.38 494.15,336.75 494.61,335.21 494.89,334.47 495.20,333.75 495.55,333.06 495.94,332.40 496.36,331.76 496.83,331.15 497.34,330.57 497.90,330.02 498.50,329.50 499.16,329.01 499.86,328.56 500.62,328.14 501.43,327.76 502.30,327.41 502.20,327.13 500.74,327.62 499.25,328.06 497.75,328.42 496.24,328.72 494.71,328.96 493.17,329.13 491.63,329.23 490.09,329.26 488.54,329.23 487.00,329.12 485.47,328.95 483.94,328.72 482.42,328.42 480.92,328.05 479.44,327.62 477.98,327.12Z" fill="url(#g7)" stroke="url(#g7)" stroke-width="1.2" stroke-linejoin="round" fill-rule="evenodd"/>
<path d="M534.99,336.25 535.57,336.99 536.09,337.72 536.53,338.47 536.92,339.21 537.24,339.96 537.50,340.71 537.71,341.47 537.86,342.23 537.96,342.99 538.01,343.75 538.01,344.52 537.97,345.30 537.88,346.07 537.58,347.64 537.14,349.21 536.87,350.01 536.24,351.60 535.10,354.02 533.97,356.15 532.33,358.77 530.47,361.47 529.51,362.77 528.52,364.02 527.51,365.23 526.48,366.39 525.42,367.51 524.33,368.57 523.22,369.58 522.08,370.53 520.91,371.42 519.71,372.24 518.48,373.00 517.22,373.69 515.93,374.31 514.60,374.86 513.24,375.33 511.85,375.72 510.42,376.02 508.96,376.25 507.46,376.38 505.92,376.42 504.35,376.37 502.73,376.23 501.08,375.98 501.03,376.28 503.73,376.82 506.41,377.47 509.06,378.24 511.67,379.13 514.23,380.13 516.76,381.24 519.23,382.46 521.65,383.78 524.00,385.22 526.30,386.75 528.52,388.38 530.67,390.10 532.74,391.92 534.73,393.83 536.64,395.82 538.45,397.89 538.68,397.70 537.65,396.39 536.71,395.06 535.88,393.72 535.15,392.37 534.52,391.00 533.98,389.63 533.53,388.24 533.17,386.84 532.90,385.43 532.71,384.01 532.60,382.58 532.57,381.14 532.61,379.69 532.73,378.24 532.91,376.79 533.17,375.32 533.48,373.86 533.86,372.39 534.29,370.91 534.79,369.43 535.33,367.95 535.92,366.47 536.56,364.99 537.97,362.03 539.42,359.29 540.70,357.25 542.23,355.06 543.30,353.72 544.41,352.48 545.58,351.38 546.20,350.88 546.82,350.41 547.47,349.99 548.14,349.60 548.83,349.26 549.54,348.97 550.27,348.72 551.03,348.52 551.81,348.38 552.62,348.28 553.46,348.24 554.32,348.26 555.22,348.33 556.15,348.47 556.20,348.17 554.68,347.87 553.18,347.50 551.70,347.07 550.24,346.57 548.80,346.01 547.38,345.39 546.00,344.71 544.64,343.96 543.32,343.16 542.04,342.30 540.79,341.39 539.59,340.42 538.43,339.40 537.31,338.34 536.24,337.22 535.22,336.06Z" fill="url(#g8)" stroke="url(#g8)" stroke-width="1.2" stroke-linejoin="round" fill-rule="evenodd"/>
<path d="M585.27,369.72 585.40,370.65 585.48,371.54 585.49,372.41 585.45,373.25 585.35,374.06 585.20,374.84 585.00,375.60 584.75,376.33 584.45,377.04 584.11,377.73 583.73,378.39 583.30,379.04 582.84,379.67 582.34,380.28 581.23,381.45 579.99,382.56 579.33,383.10 577.93,384.14 575.67,385.64 573.27,387.09 569.59,389.19 566.63,390.75 563.67,392.16 562.18,392.79 560.70,393.38 559.22,393.92 557.74,394.41 556.27,394.84 554.79,395.22 553.33,395.53 551.86,395.78 550.41,395.96 548.95,396.07 547.51,396.11 546.07,396.08 544.64,395.97 543.22,395.77 541.81,395.50 540.41,395.14 539.03,394.69 537.65,394.14 536.28,393.51 534.93,392.77 533.60,391.94 532.27,391.00 530.96,389.96 530.77,390.19 532.84,392.01 534.83,393.92 536.73,395.92 538.54,397.99 540.26,400.15 541.89,402.37 543.41,404.67 544.84,407.03 546.16,409.45 547.37,411.93 548.48,414.45 549.47,417.02 550.35,419.63 551.12,422.28 551.77,424.96 552.30,427.67 552.59,427.62 552.35,425.96 552.21,424.35 552.16,422.77 552.21,421.23 552.35,419.73 552.57,418.27 552.88,416.84 553.28,415.45 553.75,414.10 554.30,412.77 554.92,411.48 555.61,410.22 556.38,409.00 557.20,407.80 558.10,406.63 559.05,405.49 560.06,404.38 561.12,403.30 562.24,402.24 563.41,401.21 564.62,400.20 565.87,399.22 567.17,398.26 569.88,396.41 572.72,394.64 576.39,392.52 578.85,391.17 581.28,389.98 582.89,389.30 583.69,389.00 585.27,388.49 586.84,388.12 587.62,387.99 588.40,387.91 589.17,387.87 589.94,387.87 590.71,387.92 591.47,388.02 592.23,388.18 592.98,388.39 593.73,388.65 594.48,388.97 595.23,389.36 595.97,389.81 596.70,390.32 597.44,390.90 597.63,390.67 596.47,389.65 595.36,388.58 594.29,387.46 593.27,386.30 592.31,385.09 591.40,383.85 590.54,382.56 589.75,381.24 589.01,379.88 588.33,378.49 587.71,377.08 587.15,375.64 586.66,374.17 586.23,372.69 585.86,371.19 585.57,369.67Z" fill="url(#g9)" stroke="url(#g9)" stroke-width="1.2" stroke-linejoin="round" fill-rule="evenodd"/>
<circle cx="95.90" cy="197.50" r="64.15" fill="#0000ff"/>
<circle cx="689.95" cy="254.40" r="64.15" fill="#0000ff"/>
<circle cx="229.00" cy="445.20" r="64.15" fill="#0000ff"/>
<circle cx="490.05" cy="438.50" r="64.15" fill="#0000ff"/>
<circle cx="560.45" cy="220.10" r="36.38" fill="#8080ff"/>
<circle cx="141.45" cy="323.65" r="36.38" fill="#8080ff"/>
<circle cx="216.70" cy="300.70" r="36.38" fill="#8080ff"/>
<circle cx="293.45" cy="334.35" r="36.38" fill="#8080ff"/>
<circle cx="364.10" cy="366.20" r="36.38" fill="#8080ff"/>
<circle cx="419.80" cy="318.15" r="41.30" fill="#8080ff"/>
<circle cx="490.10" cy="293.85" r="36.38" fill="#8080ff"/>
<circle cx="562.35" cy="313.30" r="36.38" fill="#8080ff"/>
<circle cx="620.45" cy="363.60" r="36.38" fill="#8080ff"/>
<circle cx="385.75" cy="445.40" r="36.38" fill="#8080ff"/>
<g>
<text x="324.70" y="99" font-size="13.39" fill="#fff" fill-opacity="0.86">Informatique</text>
<text x="95.90" y="202" font-size="13.39" fill="#fff" fill-opacity="0.86">Probabilités</text>
<text x="689.95" y="257" font-size="13.39" fill="#fff" fill-opacity="0.86">Logique</text>
<text x="229.00" y="424" font-size="13.39" fill="#fff" fill-opacity="0.86" word-spacing="1.12">Equations aux</text>
<text x="229.00" y="440" font-size="13.39" fill="#fff" fill-opacity="0.86" word-spacing="1.12" textLength="97.81" lengthAdjust="spacing">dérivées partielles</text>
<text x="229.00" y="456" font-size="13.39" fill="#fff" fill-opacity="0.86" word-spacing="1.12">&amp; méthodes</text>
<text x="229.00" y="471" font-size="13.39" fill="#fff" fill-opacity="0.86">numériques</text>
<text x="490.05" y="427" font-size="13.39" fill="#fff" fill-opacity="0.86" word-spacing="1.12">Combinatoire &amp;</text>
<text x="490.05" y="443" font-size="13.39" fill="#fff" fill-opacity="0.86">mathématiques</text>
<text x="490.05" y="459" font-size="13.39" fill="#fff" fill-opacity="0.86">discrètes</text>
<text x="165.90" y="575" font-size="13.39" fill="#fff" fill-opacity="0.86">Physique</text>
<text x="531.00" y="575" font-size="13.39" fill="#fff" fill-opacity="0.86">Biologie</text>
<text x="674.10" y="546" font-size="13.39" fill="#fff" fill-opacity="0.86">Économie</text>
<text x="193.10" y="160" font-size="10.04" fill="#fff" fill-opacity="0.86">Réseaux</text>
<text x="241.20" y="217" font-size="10.04" fill="#fff" fill-opacity="0.86">Optimisation</text>
<text x="312.00" y="236" font-size="10.04" fill="#fff" fill-opacity="0.86">Traîtement</text>
<text x="312.00" y="248" font-size="10.04" fill="#fff" fill-opacity="0.86" word-spacing="0.84">des images</text>
<text x="386.20" y="224" font-size="10.04" fill="#fff" fill-opacity="0.86">Compression</text>
<text x="386.20" y="236" font-size="10.04" fill="#fff" fill-opacity="0.86" word-spacing="0.84">&amp; transmission</text>
<text x="443.90" y="181" font-size="10.04" fill="#fff" fill-opacity="0.86">Algorithmique</text>
<text x="469.20" y="104" font-size="10.04" fill="#fff" fill-opacity="0.86">Méthodes</text>
<text x="469.20" y="116" font-size="10.04" fill="#fff" fill-opacity="0.86">catégoriques</text>
<text x="560.45" y="223" font-size="10.04" fill="#000">Shehtman</text>
<text x="141.45" y="325" font-size="10.04" fill="#000" textLength="26.68" lengthAdjust="spacing">Rybko</text>
<text x="216.70" y="304" font-size="10.04" fill="#000">Nadirashvili</text>
<text x="293.45" y="330" font-size="10.04" fill="#000" textLength="35.47" lengthAdjust="spacing">OTARIE</text>
<text x="293.45" y="342" font-size="10.04" fill="#000" textLength="51.07" lengthAdjust="spacing">(Sobolevski)</text>
<text x="364.10" y="368" font-size="10.04" fill="#000">Vereschagin</text>
<text x="419.80" y="302" font-size="10.04" fill="#000">Kabatyanski,</text>
<text x="419.80" y="314" font-size="10.04" fill="#000" textLength="41.45" lengthAdjust="spacing">Tsfasman,</text>
<text x="419.80" y="326" font-size="10.04" fill="#000" textLength="37.86" lengthAdjust="spacing">Rybakov,</text>
<text x="419.80" y="338" font-size="10.04" fill="#000">Zykin</text>
<text x="490.10" y="290" font-size="10.04" fill="#000" textLength="41.15" lengthAdjust="spacing">Kucherov,</text>
<text x="490.10" y="302" font-size="10.04" fill="#000">Roytberg</text>
<text x="562.35" y="316" font-size="10.04" fill="#000" textLength="32.66" lengthAdjust="spacing">Raffinot</text>
<text x="620.45" y="365" font-size="10.04" fill="#000" textLength="39.81" lengthAdjust="spacing">Koshevoy</text>
<text x="385.75" y="448" font-size="10.04" fill="#000">Lohéac</text>
<text x="116.35" y="433" font-size="10.04" fill="#fff" fill-opacity="0.86">Matière</text>
<text x="116.35" y="445" font-size="10.04" fill="#fff" fill-opacity="0.86">condensée</text>
<text x="302.10" y="518" font-size="10.04" fill="#fff" fill-opacity="0.86">Astronomie</text>
<text x="302.10" y="531" font-size="10.04" fill="#fff" fill-opacity="0.86" word-spacing="0.84">&amp; cosmologie</text>
<text x="341.55" y="599" font-size="10.04" fill="#fff" fill-opacity="0.86">Calcul</text>
<text x="341.55" y="611" font-size="10.04" fill="#fff" fill-opacity="0.86">quantique</text>
<text x="401.55" y="541" font-size="10.04" fill="#fff" fill-opacity="0.86">Médecine</text>
<text x="603.45" y="449" font-size="10.04" fill="#fff" fill-opacity="0.86">Génomique</text>
<text x="719.60" y="411" font-size="10.04" fill="#fff" fill-opacity="0.86" word-spacing="0.84">Choix &amp; prise</text>
<text x="719.60" y="424" font-size="10.04" fill="#fff" fill-opacity="0.86" word-spacing="0.84">de décision</text>
</g>
</svg></body></html>
